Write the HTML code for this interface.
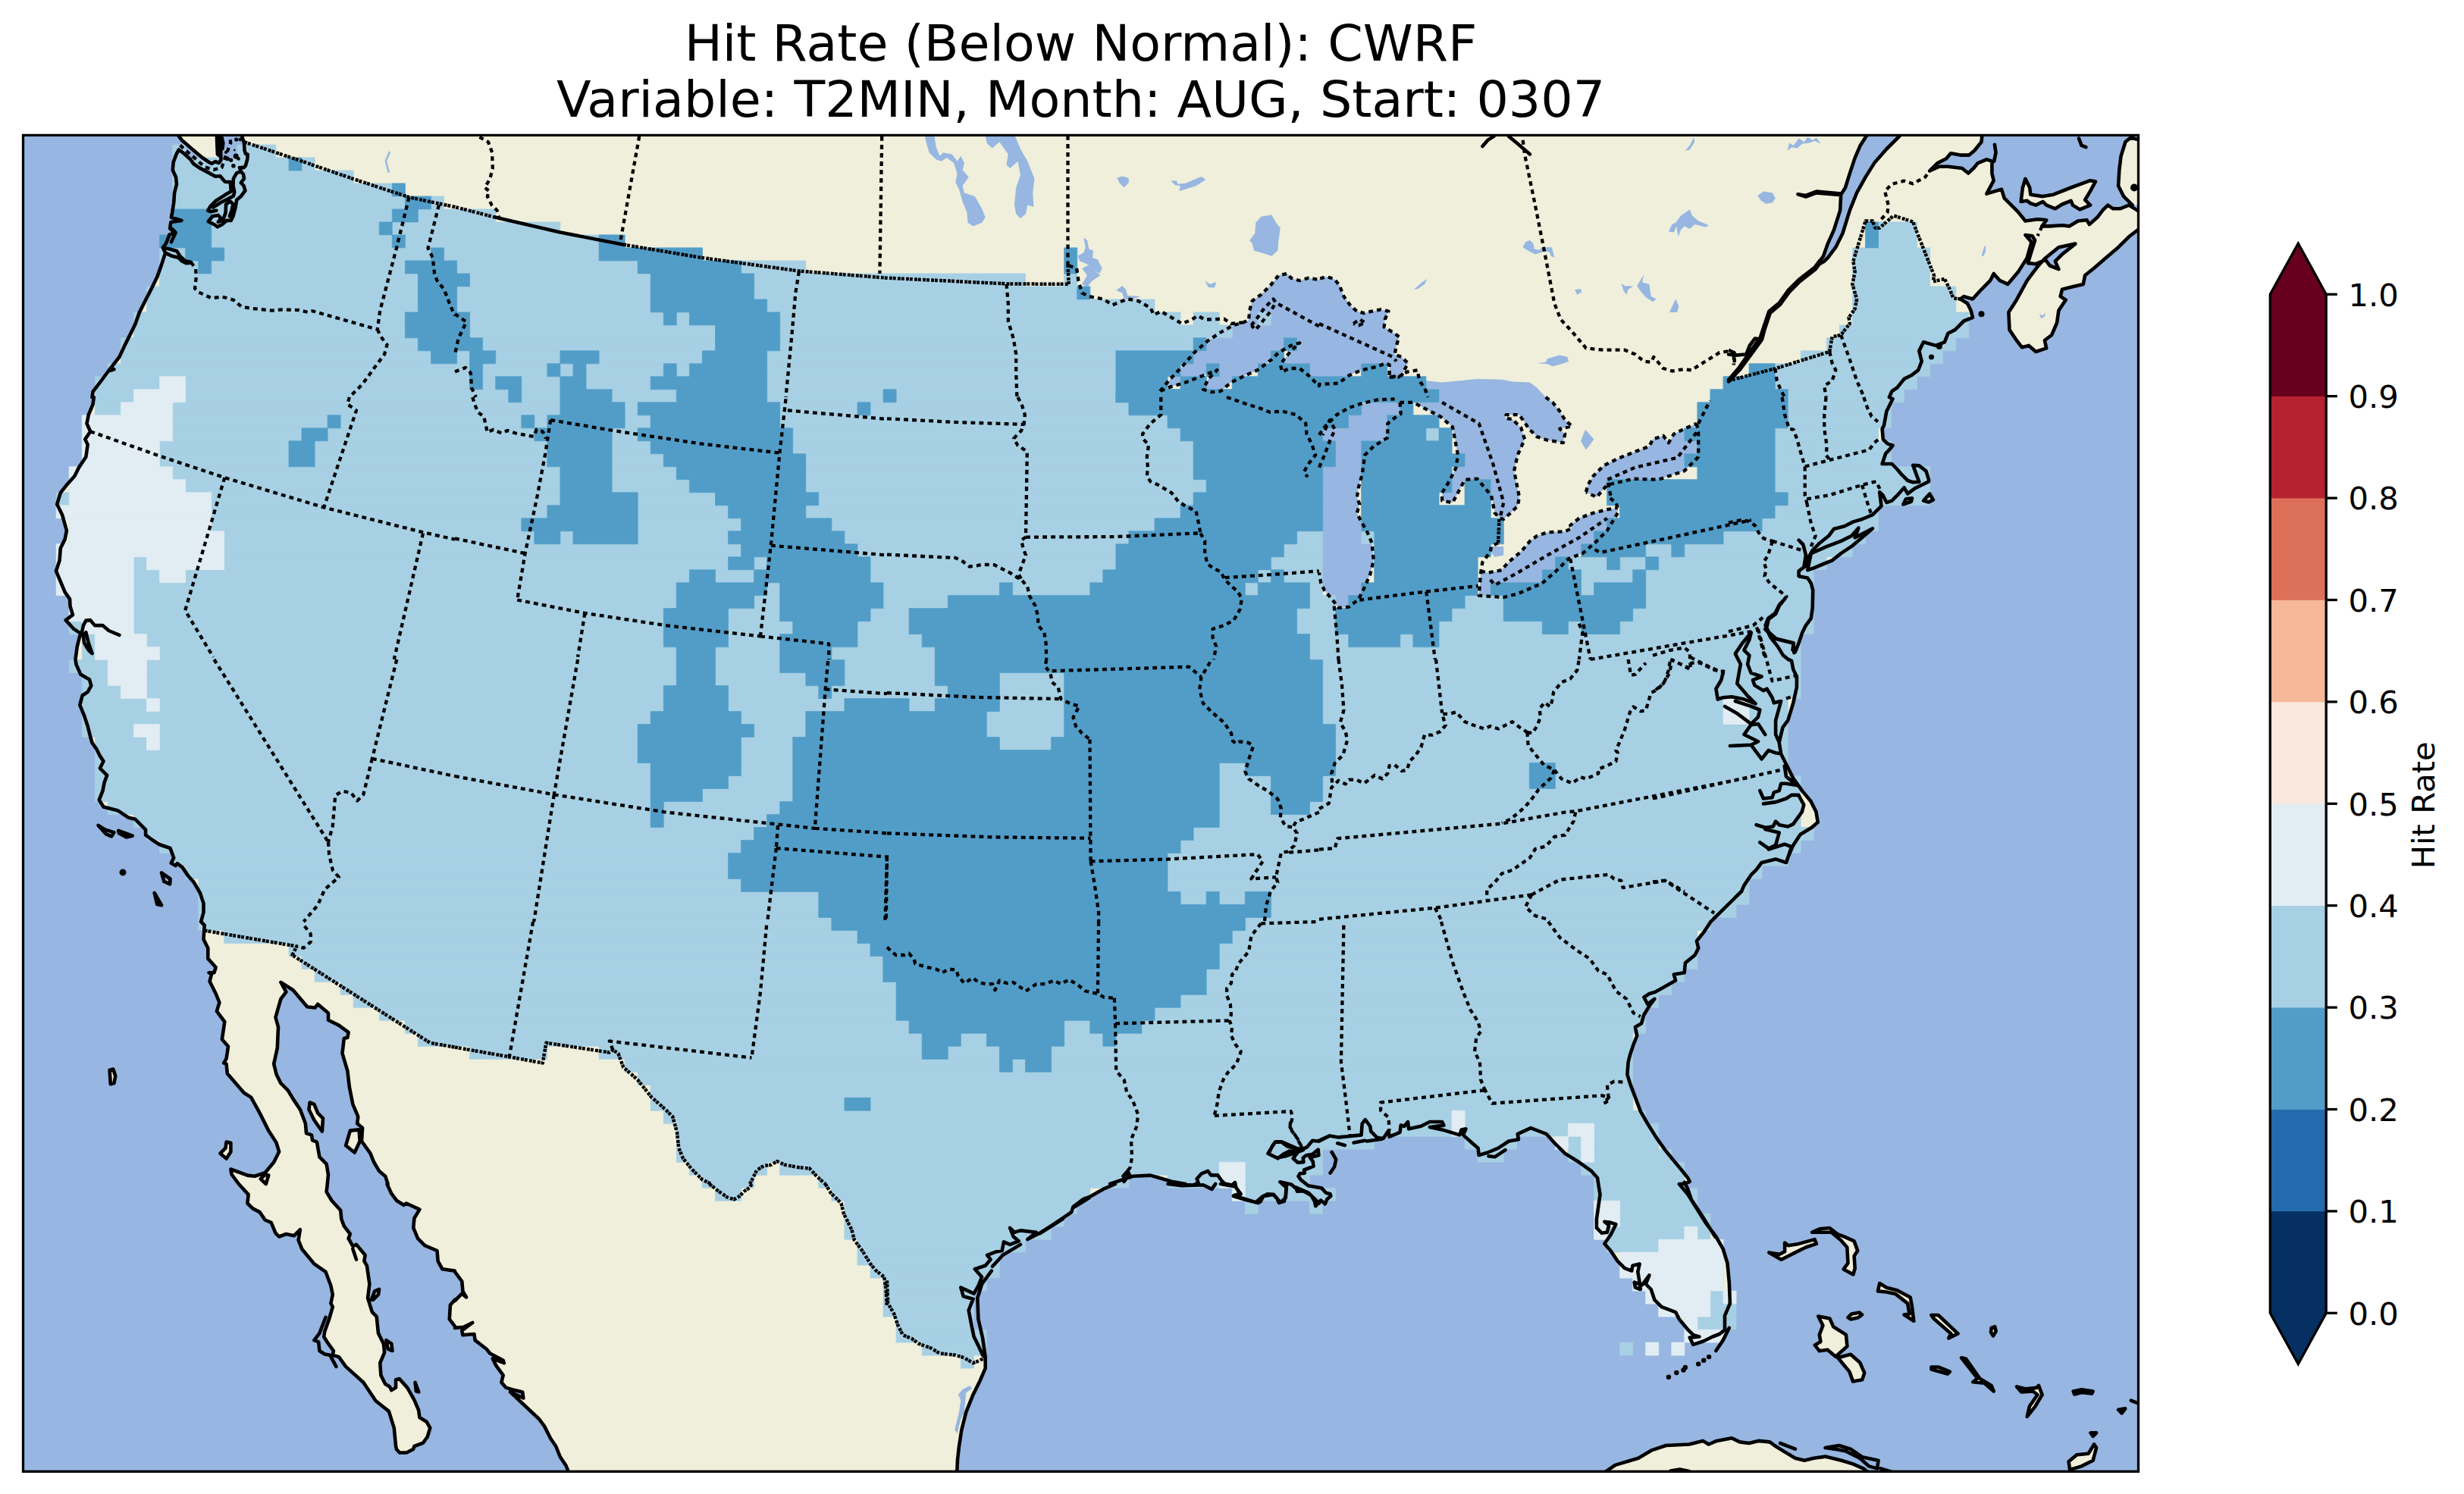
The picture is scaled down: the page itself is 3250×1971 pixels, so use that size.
<!DOCTYPE html>
<html lang="en"><head><meta charset="utf-8"><title>Hit Rate (Below Normal): CWRF</title>
<style>html,body{margin:0;padding:0;background:#fff}svg{display:block}text{font-family:"DejaVu Sans","Liberation Sans",sans-serif;fill:#000}.c{fill:none;stroke:#000;stroke-width:4.6;stroke-linejoin:round;stroke-linecap:round}.b{fill:none;stroke:#000;stroke-width:4.3;stroke-dasharray:5.9 5.15;stroke-linejoin:round}.n{fill:none;stroke:#000;stroke-width:4.5;stroke-dasharray:3.9 1 3.9 2.25;stroke-linejoin:round}.land{fill:#efefdb}.sea{fill:#97b6e1}.lk{fill:#97b6e1}</style></head><body>
<svg xmlns="http://www.w3.org/2000/svg" width="3250" height="1971" viewBox="0 0 3250 1971">
<rect width="3250" height="1971" fill="#fff"/>
<defs><clipPath id="fr"><rect x="30.5" y="178.4" width="2790" height="1762.9"/></clipPath></defs>
<g clip-path="url(#fr)">
<rect x="25.5" y="173.4" width="2800" height="1772.9" class="land"/>
<path class="sea" d="M2614.6,175.7 2613.5,187.3 2604.2,198.8 2597.3,204.6 2585.7,204.6 2573,202.3 2567.2,209.3 2555.6,215.1 2545.2,225.5 2557.9,219.7 2569.5,219.7 2588,222 2596.1,228.5 2603.1,222 2608.9,215.1 2620.4,210.4 2627.4,212.7 2627.4,228.9 2629.7,238.2 2620.4,255.6 2632,252.1 2640.1,249.8 2643.6,261.4 2652.9,270.6 2662.1,279.9 2671.4,291.5 2687.6,289.2 2699.2,290.3 2693.4,298.4 2703.8,298.4 2720,297.3 2729.3,298.4 2740.9,291.5 2752.4,290.3 2755.9,296.1 2766.3,286.8 2773.3,277.6 2780.2,270.6 2787.2,275.3 2796.4,275.3 2808,270.6 2823.1,279.9 2823.1,270.6 2812.7,270.6 2801.1,259.1 2794.1,245.2 2795.3,224.3 2797.6,205.8 2803.4,187.3 2810.3,181.5 2823.1,184.9 2823.1,175.7Z"/>
<path class="sea" d="M2464.1,175.7 2453.7,191.9 2446.7,208.1 2439.8,228.9 2434,247.5 2428.2,256.7 2427.1,277.6 2419,303.1 2410.8,321.6 2405.1,337.8 2395.8,350.5 2406.2,344.7 2410.8,340.1 2421.3,326.2 2430.5,307.7 2439.8,277.6 2449.1,254.4 2460.6,233.6 2472.2,215.1 2488.4,196.5 2509.3,175.7Z"/>
<path class="sea" d="M20.5,168.4 318.7,168.4 318.7,178.4 322,188.7 322.5,198.1 323.9,202.8 326.7,203.7 326.2,210.3 323.9,218.7 321.5,221.1 315.9,221.1 317.8,226.2 304.2,245 303.7,240.1 296.7,239.8 293.9,236.5 290.6,232.3 284,232.8 275.6,228.1 262.5,221.1 255,215.9 251.2,210.3 241.9,201.9 235.8,197.6 235.8,197.6 232.5,203.7 228.7,214 227.8,224.4 232,233.7 233,243.1 230.1,254.3 229.2,267.5 227.3,279.7 225.9,286.7 239.5,290.9 225.5,293 224.1,301.2 230.1,306.8 223.1,310 223.6,309.5 218.7,321.6 214.8,326.7 218.1,333.6 213,349.4 207.2,365.6 201.4,377.6 192.1,395.7 184,411.9 178.2,428.1 173.6,437.4 165.5,453.6 157.4,471 149.3,481.4 143,489.5 131.9,504.5 122.6,516.6 121.5,524 123.8,524 122.6,533.3 116.8,547.2 114.5,558.7 119.2,569.2 112.2,579.6 115.7,586.5 113.4,602.7 104.1,616.6 98.3,628.2 87.9,639.8 79.8,650.2 75.2,665.3 82.1,679.2 87.9,700 85.6,711.6 79.8,723.2 78.6,739.4 74,753.3 79.8,767.2 85.6,781.1 92.1,790.3 92.5,799.6 96,811.2 86.7,818.1 97.2,829.7 107.6,836.6 105.3,839 101.8,852.9 99.5,870 99.5,870 100.6,876.9 106.4,889.7 118,896.6 120.3,904.7 115.7,912.8 108.7,917.5 105.3,930.2 111.1,944.1 115.7,958 119.2,971.9 121.5,980 127.3,988.1 131.9,997.4 136.5,1004.3 131.9,1013.6 141.2,1022.8 137.7,1032.1 135.4,1043.7 130.7,1055.3 136.5,1064.5 155.1,1069.2 169,1078.4 178.2,1080.7 192.1,1094.6 192.1,1101.6 201.4,1108.5 210.6,1114.3 224.5,1119 229.2,1131.7 225.7,1138.6 231.5,1142.1 233.8,1139.1 240.7,1144.4 247.7,1154.9 255.8,1164.1 263.9,1178 268.5,1191.9 268.5,1203.5 265.1,1216 265.1,1216 269.7,1220.6 268.5,1239.2 274.3,1250.7 274.3,1264.6 284.7,1276.2 282.4,1283.2 275.5,1283.2 279,1285.5 276.6,1294.7 284.7,1311 289.4,1322.5 285.9,1334.1 296.3,1348 292.9,1371.2 301,1380.4 298.6,1396.6 295.2,1402.4 298.6,1403.6 299.8,1416.3 321.8,1441.8 331.1,1447.6 342.6,1468.4 354.2,1491.6 364.6,1507.8 368.1,1519.4 361.2,1533.3 349.6,1547.2 335.7,1551.8 326.4,1550.6 304.4,1542.5 305.6,1549.5 314.9,1562 314.9,1562 327.6,1575.9 326.4,1587.5 333.4,1594.4 342.6,1599.1 349.6,1609.5 357.7,1612.9 363.5,1626.8 368.1,1631.5 377.4,1628 387.8,1630.3 395.9,1622.2 393.6,1636.1 398.2,1647.7 414.4,1667.4 429.5,1677.8 436.4,1696.3 438.8,1707.9 436.4,1719.5 438.8,1724.1 434.1,1740.3 428.3,1756.5 427.2,1763.5 433,1772.7 439.9,1782 438.8,1787.8 446.9,1790.1 456.1,1802.9 479.3,1823.7 495.5,1848 512.9,1861.9 519.8,1883.9 522.1,1908 523,1912 527,1916.5 536,1916.5 545,1912 546.4,1908 558,1903.6 563.8,1895.5 567.3,1883.9 562.7,1875.8 553.4,1870 552.2,1860.7 546.4,1846.9 537.2,1830.6 526.8,1819.1 522.1,1820.2 522.1,1830.6 516.3,1834.1 514,1829.5 508.2,1826 502.4,1814.4 501.3,1798.2 507.1,1784.3 505.9,1772.7 499,1758.9 496.7,1736.8 490.9,1731.1 485.1,1712.5 487.4,1694 483.9,1669.7 480.4,1663.9 481.6,1655.8 470,1641.9 465.4,1644.2 459.6,1633.8 461.9,1628 453.8,1617.6 450.3,1608.3 449.2,1596.7 437.6,1584 430.6,1572.4 431.8,1562 431.8,1562 433,1549.5 430.6,1535.6 421.4,1526.3 417.9,1506.6 412.1,1504.3 411,1497.4 404,1495.1 402.9,1482.3 395.9,1463.8 386.6,1449.9 379.7,1438.3 370.4,1429.1 364.6,1417.5 361.2,1403.6 365.8,1382.7 367,1355 363.5,1342.2 370.4,1317.9 377.4,1308.6 370.4,1295.9 370.4,1295.9 386.6,1306.3 405.2,1328.3 415.6,1329.5 419.1,1324.8 433,1336.4 433,1345.7 446.9,1352.6 459.6,1361.9 458.4,1368.8 453.8,1370 451.5,1389.7 458.4,1412.9 460.8,1433.7 465.4,1456.9 472.3,1473.1 471.2,1482.3 478.1,1488.1 477,1505.5 488.5,1521.7 493.2,1533.3 500.1,1544.9 508.2,1551.8 511.7,1562 510.5,1562 516.3,1574.7 523.3,1584 532.5,1589.8 536,1587.5 553.4,1595.6 546.4,1607.2 545.3,1619.9 551.1,1633.8 560.3,1643.1 576.5,1650 577.7,1663.9 583.5,1674.3 599.9,1676.6 600,1677.8 609.3,1690.5 610.4,1703.3 615.1,1711.4 609.3,1706.7 600,1716 599.9,1714.8 593.9,1721.8 592.8,1740.3 599.9,1749.6 600,1751.9 611.6,1750.7 623.2,1745 609.3,1755.4 610.4,1761.2 625.5,1760 626.6,1768.1 641.7,1779.7 646.3,1785.5 663.7,1794.7 664.8,1798.2 649.8,1792.4 654.4,1801.7 663.7,1814.4 661.4,1823.7 667.2,1830.6 678.7,1834.1 689.2,1836.4 690.3,1844.5 673,1836.4 711.2,1872.3 718.1,1881.6 726.2,1897.8 733.2,1908 738.7,1921.7 746.5,1933.5 753.6,1951 20.5,1951Z"/>
<path class="sea" d="M2823.1,300.7 2808,312.3 2794.1,326.2 2777.9,340.1 2761.7,354 2750.1,363.3 2747.8,374.9 2733.9,378.3 2720,381.8 2717.7,391.1 2724.7,395.7 2715.4,409.6 2713.1,425.8 2706.1,442 2696.9,449 2699.2,459.4 2685.3,464 2676,455.9 2666.8,458.2 2659.8,449 2650.5,435.1 2649.4,411.9 2659.8,395.7 2673.7,370.2 2687.6,351.7 2696.9,341.3 2715.4,326.2 2737.4,321.6 2720,335.5 2710.8,344.7 2715.4,355.2 2703.8,350.5 2698,342.9 2685.3,348.2 2674.9,347.1 2678.3,335.5 2684.1,317 2680.6,311.2 2671.4,310 2679.5,319.3 2673.7,340.1 2662.1,358.6 2648.2,374.9 2637.8,370.2 2629.7,361 2625.1,370.2 2613.5,381.8 2601.9,394.5 2590.3,391.1 2585.7,394.5 2595,400.3 2599.6,409.6 2601.9,418.9 2590.3,423.5 2578.7,435.1 2569.5,439.7 2564.9,451.3 2553.3,455.9 2537.1,451.3 2531.3,462.9 2534.7,476.7 2530.1,488.3 2520.9,495.3 2511.6,499.9 2502.3,511.5 2495.4,516.1 2491.9,524 2496.5,526.3 2488.4,542.5 2485,561.1 2482.6,565.7 2483.8,579.6 2489.6,585.4 2496.5,587.7 2491.9,593.5 2487.3,598.1 2482.6,612 2495.4,612 2502.3,619 2508.1,625.9 2511.6,629.4 2516.2,634 2523.2,636.3 2531.3,635.6 2523.2,613.9 2531.3,614.3 2540.5,621.3 2544,632.8 2544,635.2 2525.5,644.4 2516.2,651.4 2511.6,643.3 2502.3,653.7 2495.4,660.6 2488.4,663 2483.8,653.7 2479.2,649.1 2481.5,667.6 2469.9,679.2 2456,685 2444.4,688.4 2432.8,694.2 2419,697.7 2412,707 2400.4,716.2 2391.2,725.5 2384.2,737.1 2381.9,746.3 2372.6,753.3 2372.6,760.2 2384.2,762.5 2388.8,769.5 2391.2,778.7 2390.7,801.9 2388.8,815.8 2381.9,825.1 2377.3,834.3 2372.6,848.2 2368,859.8 2364.5,857.5 2365.7,848.2 2356.4,845.9 2342.5,842.4 2333.3,834.3 2328.6,825.1 2332.1,815.8 2341.4,808.9 2347.2,797.3 2354.1,790.3 2347.2,798.4 2342.1,810 2332.8,817 2329.8,829.7 2335.6,841.3 2344.8,852.9 2351.8,864.4 2358.7,870 2363,871.7 2365.3,883.3 2369.9,892.5 2369.9,906.4 2365.3,927.3 2358.3,950.4 2351.4,959.7 2346.7,979.4 2349.1,994.4 2356,1008.3 2365.3,1026.9 2376.9,1043.1 2388.4,1057 2395.4,1070.9 2397.7,1084.7 2389.6,1091.7 2374.5,1101 2365.3,1114.9 2358.3,1131.1 2356,1138 2342.1,1133.4 2323.6,1138 2316.6,1147.3 2309.7,1154.2 2300.4,1168.1 2297,1176 2256.4,1216 2247.2,1229.9 2237.9,1241.5 2240.2,1250.7 2235.6,1260 2222.9,1270.4 2221.7,1283.2 2207.8,1285.5 2210.1,1293.6 2193.9,1302.8 2183.5,1308.6 2175.4,1311 2168.4,1315.6 2173.1,1324.8 2182.3,1317.9 2175.4,1327.2 2168.4,1338.7 2165,1350.3 2156.9,1355 2159.2,1366.5 2154.5,1378.1 2149.9,1392 2147.6,1401.3 2146.4,1417.5 2149.9,1429.1 2156.9,1447.6 2163.8,1466.1 2173.1,1482.3 2184.7,1500.9 2196.2,1517.1 2205.5,1528.6 2217.1,1542.5 2226.3,1554.1 2228.7,1558.8 2221.7,1562 2214.8,1562 2226.3,1575.9 2237.9,1594.4 2249.5,1612.9 2263.4,1631.5 2272.7,1647.7 2278.4,1666.2 2280.8,1691.7 2281.9,1719.5 2275,1735.7 2275,1754.2 2275,1754.2 2268,1760 2258.8,1763.5 2247.2,1769.3 2233.3,1773.9 2228.7,1764.6 2241.4,1763.5 2233.3,1761.2 2226.3,1754.2 2214.8,1740.3 2210.1,1731.1 2191.6,1724.1 2182.3,1714.8 2177.7,1701 2170.8,1694 2175.4,1682.4 2166.1,1695.2 2155.7,1691.7 2156.9,1698.6 2163.8,1701 2162.6,1691.7 2160.3,1677.8 2162.6,1667.4 2153.4,1669.7 2152.2,1676.6 2143,1673.2 2133.7,1663.9 2124.4,1650 2116.3,1640.7 2124.4,1629.2 2131.4,1615.3 2124.4,1612.9 2116.3,1611.8 2122.1,1616.4 2119.8,1625.7 2112.9,1626.8 2105.9,1619.9 2105.9,1608.3 2108.2,1592.1 2110.5,1575.9 2108.2,1562 2108.2,1562 2107.1,1554.1 2099,1544.9 2082.8,1533.3 2064.2,1521.7 2050.3,1507.8 2039.9,1496.2 2019.1,1488.1 2001.7,1496.2 2002.9,1503.2 1990.1,1505.5 1976.2,1514.7 1962.3,1520.5 1950.7,1524 1949.6,1514.7 1941.5,1507.8 1929.9,1497.4 1933.4,1489.3 1927.6,1490.4 1925.3,1497.4 1902.1,1490.4 1885.9,1487 1904.4,1484.6 1902.1,1480 1885.9,1480 1874.3,1485.8 1858.1,1489.3 1857,1480 1852.3,1485.8 1847.7,1484.6 1846.5,1493.9 1832.6,1499.7 1831.5,1491.6 1824.5,1502 1816.4,1500.9 1808.3,1492.7 1807.2,1485.8 1800.7,1477.2 1796.7,1482.3 1795.6,1497.4 1765.5,1500.4 1753.9,1498.5 1740,1505.5 1753.2,1498.6 1738,1505.5 1731.1,1504.8 1724.2,1513.1 1715.9,1517.3 1698,1512.4 1689.7,1506.2 1682.8,1506.2 1678.7,1511 1673.2,1522.1 1685.6,1528.3 1692.5,1522.8 1700.7,1518.6 1711.8,1520 1705.6,1528.3 1711.8,1533.8 1719.4,1533.1 1718.7,1527.6 1722.8,1524.2 1731.1,1522.8 1738.7,1516.6 1739.4,1524.2 1727.7,1526.9 1731.8,1532.4 1732.5,1538.6 1720.1,1543.5 1720.8,1547.6 1714.5,1548.3 1712.5,1551.8 1715.9,1556.6 1725.6,1564.2 1743.5,1567.6 1749,1573.8 1754.6,1575.2 1755.3,1578 1750.4,1582.1 1747.7,1588.3 1742.1,1583.5 1735.2,1591.1 1733.9,1584.9 1729.7,1577.3 1718.7,1571.1 1711.1,1571.8 1709.7,1568.3 1703.5,1562.8 1688.3,1559.3 1696.6,1564.2 1695.9,1576.6 1693.8,1584.9 1686.9,1586.9 1684.2,1580.7 1680,1575.9 1671.8,1575.2 1666.3,1578 1662.8,1584.9 1659.4,1586.9 1642.8,1582.8 1626.9,1578 1636.6,1575.2 1630.4,1566.9 1629,1560 1624.9,1563.5 1615.2,1561.4 1611.1,1557.3 1606.2,1550.4 1597.3,1550.4 1593.1,1544.9 1584.8,1548.3 1578.6,1555.2 1580.7,1560.7 1573.8,1563.5 1560,1562.8 1563.7,1562 1545.2,1558.8 1533.6,1555.3 1517.4,1550.6 1494.2,1551.8 1480.3,1556.4 1464.1,1562 1471.1,1562 1454.9,1568.9 1436.3,1579.4 1429.4,1581.7 1415.5,1592.1 1413.2,1599.1 1401.6,1607.2 1387.7,1616.4 1371.5,1626.8 1355.3,1635 1366.9,1625.7 1346,1623.4 1337.9,1625.7 1332.1,1619.9 1336.7,1631.5 1343.7,1637.3 1332.1,1641.9 1324,1638.4 1321.7,1650 1314.7,1651.2 1302,1655.8 1306.6,1661.6 1299.7,1669.7 1285.8,1674.3 1295.1,1684.7 1290.4,1696.3 1284.6,1706.7 1267.3,1698.6 1270.7,1710.2 1283.5,1713.7 1277.7,1728.7 1281.2,1747.3 1284.6,1763.5 1290.4,1775.1 1296.2,1787.8 1299.7,1791.3 1299.7,1805.2 1292.7,1821.4 1283.5,1839.9 1274.2,1863.1 1268.4,1886.2 1265,1908 1263,1925.7 1261.8,1951 2830.5,1951 2830.5,300.7Z"/>
<path class="land" d="M234.8,178.4 240,185 255,198.1 266.2,207.5 275.6,214 279.4,215.9 284,213.1 288.7,215 291.5,211.2 291.1,198.1 289.7,178.4Z"/>
<path class="land" d="M2665.6,266 2667.9,247.5 2671.4,235.9 2677.2,247.5 2678.3,256.7 2694.5,259.1 2708.4,256.7 2731.6,247.5 2757.1,238.2 2764,239.4 2757.1,252.1 2750.1,263.7 2757.1,270.6 2743.2,276.4 2733.9,270.6 2731.6,264.8 2720,269.5 2710.8,275.3 2699.2,270.6 2694.5,266 2685.3,270.6 2678.3,268.3 2673.7,264.8Z"/>
<path class="land" d="M2384.2,752.1 2388.8,730.1 2409.7,720.9 2428.2,713.9 2442.1,707 2451.4,696.5 2446.7,709.3 2469.9,697.2 2456,709.3 2442.1,720.9 2428.2,730.1 2416.6,739.4 2405.1,744 2391.2,749.8Z"/>
<path class="land" d="M408.6,1454.5 414.4,1456.9 419.1,1468.4 426,1475.4 424.9,1492.7 414.4,1477.7 407.5,1463.8Z"/>
<path class="land" d="M461.9,1491.6 473.5,1490.4 474.7,1505.5 467.7,1520.5 456.1,1511.3Z"/>
<path class="land" d="M298.6,1506.6 304.4,1507.8 304.4,1519.4 298.6,1528.6 290.5,1521.7 297.5,1514.7Z"/>
<path class="land" d="M144.6,1411.7 149.3,1410.5 152.3,1419.8 150.4,1429.1 145.8,1430.2Z"/>
<path class="land" d="M343.8,1555.3 349.6,1549.5 354.2,1550.6 350.8,1562Z"/>
<path class="land" d="M2333.3,1652.4 2349.5,1661.7 2368,1652.4 2381.9,1645.5 2395.8,1640.9 2393.5,1635.1 2372.6,1640.9 2358.7,1643.2 2354.1,1639.7 2354.1,1651.3 2347.2,1654.7Z"/>
<path class="land" d="M2390,1625.8 2400.4,1621.2 2413.2,1620 2423.6,1628.1 2432.8,1631.6 2445.6,1637.4 2450.2,1650.1 2445.6,1657.1 2446.7,1673.3 2444.4,1681.4 2431.7,1674.4 2437.5,1666.3 2436.3,1645.5 2428.2,1636.2 2415.5,1625.8 2400.4,1625.8Z"/>
<path class="land" d="M2476.9,1703.4 2479.2,1693 2488.4,1698.7 2502.3,1702.2 2519.7,1711.5 2522,1724.2 2524.3,1742.8 2511.6,1734.6 2518.5,1733.5 2516.2,1719.6 2500,1706.9 2488.4,1704.5Z"/>
<path class="land" d="M2437.5,1738.1 2442.1,1733.5 2452.5,1731.6 2456,1734.6 2450.2,1738.6 2441,1740.4Z"/>
<path class="land" d="M489.7,1714.8 494.3,1703.3 500.1,1701 499,1707.9 492,1714.8Z"/>
<path class="land" d="M509.4,1768.1 516.3,1772.7 517.5,1782 511.7,1779.7Z"/>
<path class="land" d="M547.6,1823.7 552.2,1836.4 548.8,1835.3Z"/>
<path class="land" d="M2115.2,1943.5 2130.4,1932.9 2160.9,1923.7 2179.1,1913.1 2197.4,1907 2227.9,1905.5 2246.1,1900.9 2253.7,1905.5 2264.4,1900.9 2284.2,1897.3 2294.8,1902.4 2307,1904 2319.2,1900.9 2334.4,1902.4 2340.5,1907 2352.7,1914.6 2367.9,1923.7 2380.1,1926.8 2392.2,1923.7 2407.5,1921.6 2428.8,1926.8 2444,1931.4 2457.7,1937.4 2465.3,1943.5 2465.3,1960 2115.2,1960Z"/>
<path class="land" d="M2398.3,1736.5 2413.5,1739.6 2418.1,1750.2 2434.9,1760.9 2436.4,1776.1 2421.2,1789.8 2410.5,1780.7 2399.8,1782.2 2393.8,1774.6 2401.4,1770 2399.8,1760.9 2404.4,1748.7Z"/>
<path class="land" d="M2424.2,1791.3 2440.9,1786.8 2453.1,1797.4 2459.2,1811.1 2456.2,1820.2 2444,1822.4 2439.4,1809.6 2431.8,1800.5Z"/>
<path class="land" d="M2547.5,1735 2556.6,1735 2582.5,1759.4 2570.3,1765.4 2573.4,1759.4 2550.5,1739.6Z"/>
<path class="land" d="M2626.6,1751.8 2631.2,1750.2 2632.7,1756.3 2629.1,1762.4 2626,1757.8Z"/>
<path class="land" d="M2547.5,1803.5 2556.6,1803.5 2571.8,1809.6 2568.8,1812.6 2547.5,1806.5Z"/>
<path class="land" d="M2587.1,1791.3 2593.2,1792.8 2611.4,1818.7 2626.6,1827.9 2629.7,1835.5 2617.5,1824.8 2602.3,1823.3 2608.4,1818.7Z"/>
<path class="land" d="M2660.1,1829.4 2672.3,1832.4 2686,1830.9 2689,1827.9 2693.6,1840 2684.5,1855.3 2673.8,1868.9 2676.9,1855.3 2687.5,1840 2681.4,1835.5 2666.2,1836.4Z"/>
<path class="land" d="M2734.7,1835.5 2745.4,1833.3 2760.6,1835.5 2759.1,1838.5 2745.4,1837 2736.2,1839.4Z"/>
<path class="land" d="M2794.1,1859.8 2803.2,1858.3 2798.6,1864.4Z"/>
<path class="land" d="M2757.5,1890.3 2765.1,1890.3 2760.6,1894.8Z"/>
<path class="land" d="M2728.6,1928.3 2739.3,1919.2 2754.5,1917.7 2762.1,1905.5 2765.1,1910 2760.6,1926.8 2745.4,1934.4 2730.1,1939Z"/>
<path class="lk" d="M1219.8,179.9 1232.5,179.9 1234.8,194.2 1239.5,205.8 1244.1,201.2 1255.7,203.5 1262.6,212.7 1267.3,205.8 1271.9,215.1 1269.6,224.3 1277.7,233.6 1269.6,245.2 1271.9,254.4 1285.8,259.1 1295.1,275.3 1299.7,286.8 1295.1,293.8 1283.5,298.4 1276.5,293.8 1275.4,279.9 1269.6,266 1265,249.8 1260.3,240.5 1262.6,228.9 1258,215.1 1248.7,208.1 1241.8,212.7 1234.8,210.4 1225.6,201.2 1222.1,189.6Z"/>
<path class="lk" d="M1299.7,179.9 1339.1,179.9 1346,196.5 1355.3,212.7 1364.5,235.9 1362.2,254.4 1363.4,273 1355.3,270.6 1353,282.2 1346,288 1340.2,282.2 1337.9,270.6 1340.2,247.5 1346,231.3 1342.5,212.7 1332.1,222 1327.5,217.4 1329.8,203.5 1318.2,187.3 1309,195.4 1302,189.6Z"/>
<path class="lk" d="M1473.4,234.7 1480.3,232.4 1488.4,234.7 1489.1,240.5 1482.6,247.5 1476.9,241.7Z"/>
<path class="lk" d="M1544,238.2 1552.1,238.7 1553.3,242.8 1563.7,241.7 1584.5,233.1 1590.3,237.1 1577.6,245.2 1555.6,252.1 1556.8,245.2 1549.8,244Z"/>
<path class="lk" d="M1663.3,285.7 1677.2,283.4 1683,293.8 1688.8,300.7 1686.4,317 1685.3,330.8 1677.2,337.8 1663.3,333.2 1654,330.8 1651.7,321.6 1648.2,317 1655.2,307.7 1656.3,293.8Z"/>
<path class="lk" d="M1429.4,313.5 1434,317 1436.3,328.5 1442.1,330.8 1441,340.1 1447.9,342.4 1453.7,354 1450.2,361 1443.3,356.3 1451.4,363.3 1441,370.2 1434,378.3 1427.1,374.9 1434,363.3 1427.1,354 1436.3,349.4 1424.7,344.7 1421.3,337.8 1429.4,333.2 1431.7,326.2Z"/>
<path class="lk" d="M1472.2,383 1480.3,377.2 1485,381.8 1487.3,389.9 1504.6,391.1 1494.2,394.5 1482.6,394.5 1480.3,386.4Z"/>
<path class="lk" d="M1589.2,370.2 1596.1,374.9 1604.2,372.1 1601.9,379.5 1593.8,379Z"/>
<path class="lk" d="M2008.6,326.2 2012.1,319.3 2017.9,317 2022.5,321.6 2023.7,328.5 2029.5,329.7 2035.3,326.2 2046.9,326.2 2050.3,340.1 2045.7,337.8 2043.4,332 2036.4,332 2024.9,335.5 2015.6,330.8Z"/>
<path class="lk" d="M2200.9,305.4 2205.5,296.1 2210.1,293.8 2217.1,284.5 2228.7,276.4 2232.1,284.5 2240.2,291.5 2254.1,297.3 2249.5,299.6 2235.6,296.1 2228.7,301.9 2221.7,298.4 2217.1,303.1 2213.6,312.3 2211.3,298.4 2207.8,306.5Z"/>
<path class="lk" d="M2027.2,479.1 2038.7,477.9 2041.1,473.3 2057.3,468.6 2067.7,471 2068.9,476.7 2059.6,480.2 2048,483.2 2041.1,480.2Z"/>
<path class="lk" d="M1865.1,381.8 1875.5,372.5 1882.4,367.9 1879,374.9 1869.7,381.3Z"/>
<path class="lk" d="M2077,382.3 2085.1,381.3 2086.2,385.3 2080.4,388.7Z"/>
<path class="lk" d="M2138.3,373.7 2143,377.2 2154.5,377.6 2147.6,381.8 2145.3,388.7 2141.8,384.1Z"/>
<path class="lk" d="M2159.2,377.2 2168.4,362.1 2166.1,372.5 2175.4,374.9 2177.7,391.1 2184.7,394.5 2180,398 2170.8,392.2 2163.8,384.1Z"/>
<path class="lk" d="M2202,411.9 2210.1,394.5 2214.3,403.8 2212.4,411.9Z"/>
<path class="lk" d="M2222.9,198.4 2228.7,191.9 2234.4,180.8 2235.1,187.3 2228.7,197.7Z"/>
<path class="lk" d="M2318.2,257.9 2326.3,252.6 2337.9,254.4 2341.8,261.4 2337.9,267.2 2329.8,269 2322.8,264.8Z"/>
<path class="lk" d="M2357.6,198.8 2359.9,188.4 2365.7,191.9 2372.6,182.6 2379.6,187.3 2384.2,180.8 2391.2,184.9 2395.8,181.5 2401.6,189.6 2393.5,186.1 2386.5,188.4 2377.3,189.6 2370.3,195.4 2363.4,194.2Z"/>
<path class="lk" d="M2613.5,337.8 2617,326.2 2619.3,322.7 2618.6,333.2 2615.8,337.8Z"/>
<path class="lk" d="M2689.9,414.2 2694.5,416.5 2698,411.9 2696.9,417.7 2692.2,420Z"/>
<path class="lk" d="M1796.7,532.1 1816.4,529.8 1846.5,529.8 1846.5,530.9 1847.7,546 1841.9,549.5 1830.3,558.7 1830.3,577.3 1811.8,588.8 1800.2,600.4 1796.7,625.9 1792.1,642.1 1789.8,656 1793.3,665.3 1789.8,676.8 1795.6,688.4 1802.5,700 1809.5,716.2 1811.8,739.4 1807.2,757.9 1800.2,774.1 1796.7,781.1 1792.1,790.3 1779.4,800.7 1765.5,801.9 1758.5,792.6 1746.9,778.7 1742.3,769.5 1740,755.6 1735.4,732.4 1737.7,700 1740,653.7 1737.7,616.6 1726.1,593.5 1721.5,570.3 1735.4,551.8 1753.9,547.2 1779.4,549.5Z"/>
<path class="lk" d="M1869.7,524 1872,502.2 1881.3,502.2 1902.1,504.5 1925.3,502.2 1948.4,499.9 1971.6,500.4 1983.2,501.1 1994.7,503.4 2017.9,504.5 2027.2,511.5 2038.7,524 2048,530.9 2057.3,542.5 2064.2,554.1 2073.5,562.2 2057.3,565.7 2064.2,572.6 2061.9,584.2 2041.1,580.7 2027.2,576.1 2016.7,565.7 2006.3,550.6 2004,547.2 1986.6,547.2 1985.5,551.8 1994.7,552.9 2006.3,564.5 2011,579.6 2001.7,600.4 1997.1,621.3 2004,656 2001.7,667.6 1992.4,676.8 1983.2,685 1978.5,683.8 1971.6,676.8 1967,653.7 1948.4,631.7 1932.2,632.8 1916,663 1902.1,660.6 1902.1,650.2 1911.4,635.2 1920.6,616.6 1923,600.4 1916,563.4 1899.8,549.5 1863.9,530.9 1846.5,530.9Z"/>
<path class="lk" d="M1967,720.9 1983.2,720.9 1983.2,732.4 1971.6,734.7 1965.8,727.8Z"/>
<path class="lk" d="M1953.1,753.3 1962.3,755.6 1980.9,752.1 1985.5,746.3 1992.4,739.4 2006.3,727.8 2017.9,713.9 2027.2,707 2041.1,702.3 2064.2,701.2 2073.5,696.5 2071.2,693.1 2082.8,683.8 2101.3,676.8 2119.8,672.2 2133.7,669.9 2133.7,676.8 2119.8,700 2103.6,716.2 2087.4,730.1 2068.9,737.1 2052.6,753.3 2034.1,769.5 2001.7,783.4 1983.2,788 1950.7,785.7 1953.1,755.6Z"/>
<path class="lk" d="M2092,649.1 2094.3,639.8 2101.3,628.2 2115.2,614.3 2133.7,605.1 2156.9,595.8 2175.4,588.8 2180,579.6 2193.9,574.9 2200.9,584.2 2207.8,572.6 2221.7,565.7 2237.9,558.7 2237.9,558.7 2240.2,570.3 2240.2,602.7 2221.7,621.3 2187,632.8 2154.5,631.7 2119.8,639.8 2105.9,656 2092,649.1Z"/>
<path class="lk" d="M2085.1,581.9 2090.9,566.8 2102.4,579.6 2092,593.5Z"/>
<path class="lk" d="M1263.8,1839.9 1269.6,1833 1278.8,1828.3 1282.3,1831.8 1274.2,1837.6 1271.9,1863.1 1267.3,1872.3 1262.6,1890.9 1259.2,1886.2 1265,1863.1 1267.3,1846.9Z"/>
<path class="lk" d="M1530.1,516.1 1540.5,503.4 1559.1,483.7 1575.3,465.2 1593.8,449 1610,438.5 1626.2,429.3 1640.1,425.3 1647.1,422.3 1648.2,409.6 1651.7,396.9 1663.3,388.7 1677.2,374.9 1686.4,363.3 1698,361 1702.7,366.7 1714.2,370.2 1725.8,366.7 1739.9,369.1 1740,367.9 1749.3,365.1 1759.7,367.9 1766.6,376 1772.4,391.1 1781.7,403.8 1789.8,410.7 1799.1,413.1 1809.5,410.7 1821.1,408.4 1831.5,410.7 1826.8,421.2 1825.7,431.6 1837.3,438.5 1845.4,444.3 1841.9,455.9 1839.6,467.5 1848.8,471 1857,479.1 1848.8,495.3 1832.6,497.6 1832.6,497.6 1832.6,481.4 1828,479.1 1816.4,483.7 1795.6,488.3 1779.4,495.3 1765.5,505.7 1753.9,506.4 1740,506.9 1739.9,509.2 1735.1,504.5 1725.8,495.3 1714.2,486 1700.3,486 1691.1,490.6 1688.8,481.4 1693.4,474.4 1702.7,462.9 1714.2,452.4 1702.7,455.9 1686.4,465.2 1677.2,474.4 1658.7,488.3 1642.4,495.3 1623.9,504.5 1610,516.1 1598.4,517.3 1586.9,513.8 1593.8,499.9 1605.4,488.3 1584.5,496.4 1563.7,504.5 1540.5,511.5 1530.1,516.1Z"/>
<path fill="#a7d0e4" stroke="#a7d0e4" stroke-width="0.7" d="M227.6,191H244.6V208H227.6ZM312.8,191H363.9V208H312.8ZM227.6,208H415.1V225H227.6ZM227.6,225H466.2V242H227.6ZM227.6,242H534.4V259H227.6ZM227.6,259H585.5V275.9H227.6ZM227.6,275.9H653.7V292.9H227.6ZM227.6,292.9H738.9V309.9H227.6ZM2460.5,292.9H2528.6V309.9H2460.5ZM210.5,309.9H824.1V326.9H210.5ZM2460.5,309.9H2528.6V326.9H2460.5ZM210.5,326.9H926.4V343.9H210.5ZM1403.7,326.9H1420.7V343.9H1403.7ZM2443.4,326.9H2545.7V343.9H2443.4ZM210.5,343.9H1062.8V360.9H210.5ZM1403.7,343.9H1420.7V360.9H1403.7ZM2443.4,343.9H2545.7V360.9H2443.4ZM210.5,360.9H1352.5V377.9H210.5ZM1403.7,360.9H1420.7V377.9H1403.7ZM2443.4,360.9H2545.7V377.9H2443.4ZM193.5,377.9H1437.8V394.9H193.5ZM2443.4,377.9H2579.8V394.9H2443.4ZM193.5,394.9H1523V411.9H193.5ZM2443.4,394.9H2579.8V411.9H2443.4ZM176.4,411.9H1557.1V428.9H176.4ZM1574.1,411.9H1608.2V428.9H1574.1ZM1659.3,411.9H1676.4V428.9H1659.3ZM2443.4,411.9H2596.8V428.9H2443.4ZM176.4,428.9H1625.3V445.8H176.4ZM2426.4,428.9H2596.8V445.8H2426.4ZM159.4,445.8H1591.2V462.8H159.4ZM1693.4,445.8H1710.5V462.8H1693.4ZM2409.3,445.8H2579.8V462.8H2409.3ZM159.4,462.8H1574.1V479.8H159.4ZM1676.4,462.8H1693.4V479.8H1676.4ZM2375.2,462.8H2562.7V479.8H2375.2ZM142.3,479.8H1557.1V496.8H142.3ZM1591.2,479.8H1608.2V496.8H1591.2ZM1659.3,479.8H1727.5V496.8H1659.3ZM1795.7,479.8H1829.8V496.8H1795.7ZM2307.1,479.8H2545.7V496.8H2307.1ZM125.3,496.8H1540V513.8H125.3ZM1557.1,496.8H1591.2V513.8H1557.1ZM1625.3,496.8H1880.9V513.8H1625.3ZM2273,496.8H2528.6V513.8H2273ZM125.3,513.8H1898V530.8H125.3ZM2255.9,513.8H2511.6V530.8H2255.9ZM125.3,530.8H1795.7V547.8H125.3ZM1846.8,530.8H1863.9V547.8H1846.8ZM2238.9,530.8H2494.6V547.8H2238.9ZM108.3,547.8H1778.7V564.8H108.3ZM1829.8,547.8H1898V564.8H1829.8ZM2238.9,547.8H2494.6V564.8H2238.9ZM108.3,564.8H1744.6V581.8H108.3ZM1829.8,564.8H1915V581.8H1829.8ZM2221.8,564.8H2477.5V581.8H2221.8ZM108.3,581.8H1761.6V598.8H108.3ZM1795.7,581.8H1915V598.8H1795.7ZM2238.9,581.8H2494.6V598.8H2238.9ZM108.3,598.8H1761.6V615.8H108.3ZM1795.7,598.8H1932.1V615.8H1795.7ZM2221.8,598.8H2494.6V615.8H2221.8ZM91.2,615.8H1744.6V632.7H91.2ZM1795.7,615.8H1915V632.7H1795.7ZM2238.9,615.8H2545.7V632.7H2238.9ZM91.2,632.7H1744.6V649.7H91.2ZM1795.7,632.7H1915V649.7H1795.7ZM1932.1,632.7H1966.2V649.7H1932.1ZM2119.6,632.7H2545.7V649.7H2119.6ZM74.2,649.7H1744.6V666.7H74.2ZM1795.7,649.7H1898V666.7H1795.7ZM1932.1,649.7H1966.2V666.7H1932.1ZM2119.6,649.7H2545.7V666.7H2119.6ZM74.2,666.7H1744.6V683.7H74.2ZM1795.7,666.7H1966.2V683.7H1795.7ZM2136.6,666.7H2477.5V683.7H2136.6ZM91.2,683.7H1744.6V700.7H91.2ZM1795.7,683.7H1983.2V700.7H1795.7ZM2119.6,683.7H2477.5V700.7H2119.6ZM91.2,700.7H1744.6V717.7H91.2ZM1795.7,700.7H1983.2V717.7H1795.7ZM2102.5,700.7H2460.5V717.7H2102.5ZM74.2,717.7H1744.6V734.7H74.2ZM1812.8,717.7H1966.2V734.7H1812.8ZM2085.5,717.7H2443.4V734.7H2085.5ZM74.2,734.7H1744.6V751.7H74.2ZM1812.8,734.7H1949.1V751.7H1812.8ZM2051.4,734.7H2409.3V751.7H2051.4ZM74.2,751.7H1744.6V768.7H74.2ZM1812.8,751.7H1949.1V768.7H1812.8ZM2034.3,751.7H2392.3V768.7H2034.3ZM74.2,768.7H1744.6V785.6H74.2ZM1795.7,768.7H1949.1V785.6H1795.7ZM1966.2,768.7H2392.3V785.6H1966.2ZM91.2,785.6H1761.6V802.6H91.2ZM1778.7,785.6H2392.3V802.6H1778.7ZM91.2,802.6H2392.3V819.6H91.2ZM91.2,819.6H2392.3V836.6H91.2ZM108.3,836.6H2375.2V853.6H108.3ZM108.3,853.6H2375.2V870.6H108.3ZM91.2,870.6H2375.2V887.6H91.2ZM108.3,887.6H2375.2V904.6H108.3ZM108.3,904.6H2375.2V921.6H108.3ZM108.3,921.6H2358.2V938.6H108.3ZM108.3,938.6H2358.2V955.5H108.3ZM108.3,955.5H2358.2V972.5H108.3ZM125.3,972.5H2358.2V989.5H125.3ZM125.3,989.5H2358.2V1006.5H125.3ZM125.3,1006.5H2358.2V1023.5H125.3ZM125.3,1023.5H2375.2V1040.5H125.3ZM125.3,1040.5H2375.2V1057.5H125.3ZM142.3,1057.5H2375.2V1074.5H142.3ZM176.4,1074.5H2375.2V1091.5H176.4ZM193.5,1091.5H2392.3V1108.5H193.5ZM210.5,1108.5H2375.2V1125.4H210.5ZM227.6,1125.4H2358.2V1142.4H227.6ZM244.6,1142.4H2324.1V1159.4H244.6ZM261.7,1159.4H2307.1V1176.4H261.7ZM261.7,1176.4H2307.1V1193.4H261.7ZM261.7,1193.4H2290V1210.4H261.7ZM261.7,1210.4H2255.9V1227.4H261.7ZM295.7,1227.4H2238.9V1244.4H295.7ZM381,1244.4H2238.9V1261.4H381ZM398,1261.4H2238.9V1278.4H398ZM415.1,1278.4H2221.8V1295.3H415.1ZM449.2,1295.3H2204.8V1312.3H449.2ZM466.2,1312.3H2187.7V1329.3H466.2ZM500.3,1329.3H2170.7V1346.3H500.3ZM534.4,1346.3H2170.7V1363.3H534.4ZM551.4,1363.3H2153.7V1380.3H551.4ZM619.6,1380.3H721.9V1397.3H619.6ZM790.1,1380.3H2153.7V1397.3H790.1ZM824.1,1397.3H2153.7V1414.3H824.1ZM841.2,1414.3H2153.7V1431.3H841.2ZM858.2,1431.3H2153.7V1448.3H858.2ZM858.2,1448.3H2153.7V1465.2H858.2ZM875.3,1465.2H2170.7V1482.2H875.3ZM892.3,1482.2H2187.7V1499.2H892.3ZM892.3,1499.2H1812.8V1516.2H892.3ZM1932.1,1499.2H2000.2V1516.2H1932.1ZM2051.4,1499.2H2187.7V1516.2H2051.4ZM892.3,1516.2H1744.6V1533.2H892.3ZM1949.1,1516.2H1983.2V1533.2H1949.1ZM2068.4,1516.2H2204.8V1533.2H2068.4ZM909.4,1533.2H1011.6V1550.2H909.4ZM1028.7,1533.2H1744.6V1550.2H1028.7ZM2085.5,1533.2H2221.8V1550.2H2085.5ZM926.4,1550.2H994.6V1567.2H926.4ZM1079.8,1550.2H1488.9V1567.2H1079.8ZM1540,1550.2H1727.5V1567.2H1540ZM2102.5,1550.2H2221.8V1567.2H2102.5ZM943.5,1567.2H977.5V1584.2H943.5ZM1096.9,1567.2H1437.8V1584.2H1096.9ZM1625.3,1567.2H1761.6V1584.2H1625.3ZM2102.5,1567.2H2238.9V1584.2H2102.5ZM1113.9,1584.2H1420.7V1601.2H1113.9ZM1642.3,1584.2H1659.3V1601.2H1642.3ZM1727.5,1584.2H1744.6V1601.2H1727.5ZM2102.5,1584.2H2238.9V1601.2H2102.5ZM1113.9,1601.2H1403.7V1618.2H1113.9ZM2102.5,1601.2H2255.9V1618.2H2102.5ZM1113.9,1618.2H1386.6V1635.2H1113.9ZM2102.5,1618.2H2255.9V1635.2H2102.5ZM1131,1635.2H1352.5V1652.1H1131ZM2119.6,1635.2H2273V1652.1H2119.6ZM1131,1652.1H1318.4V1669.1H1131ZM2136.6,1652.1H2273V1669.1H2136.6ZM1148,1669.1H1318.4V1686.1H1148ZM2136.6,1669.1H2273V1686.1H2136.6ZM1165,1686.1H1301.4V1703.1H1165ZM2153.7,1686.1H2273V1703.1H2153.7ZM1165,1703.1H1284.4V1720.1H1165ZM2170.7,1703.1H2290V1720.1H2170.7ZM1165,1720.1H1284.4V1737.1H1165ZM2187.7,1720.1H2290V1737.1H2187.7ZM1182.1,1737.1H1284.4V1754.1H1182.1ZM2221.8,1737.1H2290V1754.1H2221.8ZM1182.1,1754.1H1301.4V1771.1H1182.1ZM2221.8,1754.1H2273V1771.1H2221.8ZM1216.2,1771.1H1301.4V1788.1H1216.2ZM2136.6,1771.1H2153.7V1788.1H2136.6ZM2170.7,1771.1H2187.7V1788.1H2170.7ZM2204.8,1771.1H2221.8V1788.1H2204.8ZM1267.3,1788.1H1284.4V1805H1267.3Z"/>
<path fill="#e1edf3" stroke="#e1edf3" stroke-width="0.7" d="M210.5,496.8H244.6V513.8H210.5ZM176.4,513.8H244.6V530.8H176.4ZM159.4,530.8H227.6V547.8H159.4ZM108.3,547.8H227.6V564.8H108.3ZM108.3,564.8H227.6V581.8H108.3ZM108.3,581.8H210.5V598.8H108.3ZM108.3,598.8H210.5V615.8H108.3ZM91.2,615.8H227.6V632.7H91.2ZM91.2,632.7H244.6V649.7H91.2ZM91.2,649.7H278.7V666.7H91.2ZM74.2,666.7H278.7V683.7H74.2ZM91.2,683.7H278.7V700.7H91.2ZM91.2,700.7H295.7V717.7H91.2ZM74.2,717.7H295.7V734.7H74.2ZM74.2,734.7H176.4V751.7H74.2ZM193.5,734.7H295.7V751.7H193.5ZM74.2,751.7H176.4V768.7H74.2ZM210.5,751.7H244.6V768.7H210.5ZM74.2,768.7H176.4V785.6H74.2ZM91.2,785.6H176.4V802.6H91.2ZM91.2,802.6H176.4V819.6H91.2ZM108.3,819.6H176.4V836.6H108.3ZM125.3,836.6H193.5V853.6H125.3ZM125.3,853.6H210.5V870.6H125.3ZM142.3,870.6H193.5V887.6H142.3ZM142.3,887.6H193.5V904.6H142.3ZM159.4,904.6H193.5V921.6H159.4ZM193.5,921.6H210.5V938.6H193.5ZM176.4,955.5H210.5V972.5H176.4ZM193.5,972.5H210.5V989.5H193.5ZM2273,921.6H2307.1V938.6H2273ZM2273,938.6H2307.1V955.5H2273ZM1608.2,1533.2H1642.3V1550.2H1608.2ZM1608.2,1550.2H1642.3V1567.2H1608.2ZM1915,1465.2H1932.1V1482.2H1915ZM1915,1482.2H1932.1V1499.2H1915ZM2068.4,1482.2H2102.5V1499.2H2068.4ZM2051.4,1499.2H2068.4V1516.2H2051.4ZM2085.5,1499.2H2102.5V1516.2H2085.5ZM2085.5,1516.2H2102.5V1533.2H2085.5ZM1625.3,1567.2H1642.3V1584.2H1625.3ZM2102.5,1584.2H2136.6V1601.2H2102.5ZM2102.5,1601.2H2136.6V1618.2H2102.5ZM2102.5,1618.2H2119.6V1635.2H2102.5ZM2221.8,1618.2H2238.9V1635.2H2221.8ZM2187.7,1635.2H2273V1652.1H2187.7ZM2136.6,1652.1H2273V1669.1H2136.6ZM2136.6,1669.1H2273V1686.1H2136.6ZM2153.7,1686.1H2273V1703.1H2153.7ZM2170.7,1703.1H2255.9V1720.1H2170.7ZM2273,1703.1H2290V1720.1H2273ZM2187.7,1720.1H2255.9V1737.1H2187.7ZM2221.8,1737.1H2238.9V1754.1H2221.8ZM2221.8,1754.1H2273V1771.1H2221.8ZM2170.7,1771.1H2187.7V1788.1H2170.7ZM2204.8,1771.1H2221.8V1788.1H2204.8Z"/>
<path fill="#529dc8" stroke="#529dc8" stroke-width="0.7" d="M381,208H398V225H381ZM517.3,242H534.4V259H517.3ZM534.4,259H568.5V275.9H534.4ZM517.3,275.9H551.4V292.9H517.3ZM227.6,275.9H278.7V292.9H227.6ZM500.3,292.9H517.3V309.9H500.3ZM227.6,292.9H278.7V309.9H227.6ZM517.3,309.9H534.4V326.9H517.3ZM210.5,309.9H278.7V326.9H210.5ZM568.5,326.9H585.5V343.9H568.5ZM244.6,326.9H295.7V343.9H244.6ZM534.4,343.9H602.6V360.9H534.4ZM261.7,343.9H278.7V360.9H261.7ZM551.4,360.9H602.6V377.9H551.4ZM551.4,377.9H602.6V394.9H551.4ZM551.4,394.9H602.6V411.9H551.4ZM534.4,411.9H602.6V428.9H534.4ZM534.4,428.9H602.6V445.8H534.4ZM551.4,445.8H602.6V462.8H551.4ZM568.5,462.8H602.6V479.8H568.5ZM790.1,309.9H824.1V326.9H790.1ZM790.1,326.9H926.4V343.9H790.1ZM841.2,343.9H977.5V360.9H841.2ZM858.2,360.9H994.6V377.9H858.2ZM585.5,360.9H619.6V377.9H585.5ZM858.2,377.9H994.6V394.9H858.2ZM858.2,394.9H1011.6V411.9H858.2ZM875.3,411.9H892.3V428.9H875.3ZM909.4,411.9H1028.7V428.9H909.4ZM585.5,411.9H619.6V428.9H585.5ZM943.5,428.9H1028.7V445.8H943.5ZM585.5,428.9H619.6V445.8H585.5ZM943.5,445.8H1028.7V462.8H943.5ZM585.5,445.8H636.6V462.8H585.5ZM926.4,462.8H1011.6V479.8H926.4ZM738.9,462.8H790.1V479.8H738.9ZM619.6,462.8H653.7V479.8H619.6ZM875.3,479.8H892.3V496.8H875.3ZM909.4,479.8H1011.6V496.8H909.4ZM721.9,479.8H738.9V496.8H721.9ZM756,479.8H773V496.8H756ZM619.6,479.8H636.6V496.8H619.6ZM858.2,496.8H1011.6V513.8H858.2ZM738.9,496.8H773V513.8H738.9ZM653.7,496.8H687.8V513.8H653.7ZM619.6,496.8H636.6V513.8H619.6ZM892.3,513.8H1011.6V530.8H892.3ZM738.9,513.8H807.1V530.8H738.9ZM670.7,513.8H687.8V530.8H670.7ZM1403.7,326.9H1420.7V343.9H1403.7ZM1403.7,343.9H1420.7V360.9H1403.7ZM1420.7,377.9H1437.8V394.9H1420.7ZM1574.1,445.8H1591.2V462.8H1574.1ZM1693.4,445.8H1710.5V462.8H1693.4ZM1471.9,462.8H1574.1V479.8H1471.9ZM1676.4,462.8H1693.4V479.8H1676.4ZM1471.9,479.8H1557.1V496.8H1471.9ZM1591.2,479.8H1608.2V496.8H1591.2ZM1659.3,479.8H1727.5V496.8H1659.3ZM1471.9,496.8H1540V513.8H1471.9ZM1557.1,496.8H1591.2V513.8H1557.1ZM1625.3,496.8H1744.6V513.8H1625.3ZM1471.9,513.8H1744.6V530.8H1471.9ZM1165,513.8H1182.1V530.8H1165ZM1795.7,479.8H1829.8V496.8H1795.7ZM1744.6,496.8H1880.9V513.8H1744.6ZM2273,496.8H2341.1V513.8H2273ZM1744.6,513.8H1898V530.8H1744.6ZM2255.9,513.8H2341.1V530.8H2255.9ZM2460.5,292.9H2477.5V309.9H2460.5ZM2460.5,309.9H2477.5V326.9H2460.5ZM2307.1,479.8H2341.1V496.8H2307.1ZM2290,496.8H2341.1V513.8H2290ZM2290,513.8H2358.2V530.8H2290ZM432.1,547.8H449.2V564.8H432.1ZM398,564.8H432.1V581.8H398ZM381,581.8H415.1V598.8H381ZM381,598.8H415.1V615.8H381ZM738.9,530.8H824.1V547.8H738.9ZM841.2,530.8H1028.7V547.8H841.2ZM1131,530.8H1148V547.8H1131ZM687.8,547.8H704.8V564.8H687.8ZM721.9,547.8H824.1V564.8H721.9ZM858.2,547.8H1028.7V564.8H858.2ZM704.8,564.8H807.1V581.8H704.8ZM841.2,564.8H1045.7V581.8H841.2ZM721.9,581.8H807.1V598.8H721.9ZM858.2,581.8H1045.7V598.8H858.2ZM721.9,598.8H807.1V615.8H721.9ZM875.3,598.8H1062.8V615.8H875.3ZM738.9,615.8H807.1V632.7H738.9ZM892.3,615.8H1062.8V632.7H892.3ZM738.9,632.7H807.1V649.7H738.9ZM909.4,632.7H1062.8V649.7H909.4ZM738.9,649.7H841.2V666.7H738.9ZM943.5,649.7H1079.8V666.7H943.5ZM721.9,666.7H841.2V683.7H721.9ZM960.5,666.7H1062.8V683.7H960.5ZM687.8,683.7H841.2V700.7H687.8ZM977.5,683.7H1096.9V700.7H977.5ZM704.8,700.7H738.9V717.7H704.8ZM756,700.7H841.2V717.7H756ZM960.5,700.7H1113.9V717.7H960.5ZM977.5,717.7H1131V734.7H977.5ZM960.5,734.7H994.6V751.7H960.5ZM1011.6,734.7H1148V751.7H1011.6ZM909.4,751.7H943.5V768.7H909.4ZM994.6,751.7H1148V768.7H994.6ZM892.3,768.7H1011.6V785.6H892.3ZM1028.7,768.7H1165V785.6H1028.7ZM892.3,785.6H994.6V802.6H892.3ZM1028.7,785.6H1165V802.6H1028.7ZM875.3,802.6H960.5V819.6H875.3ZM1028.7,802.6H1148V819.6H1028.7ZM875.3,819.6H960.5V836.6H875.3ZM1045.7,819.6H1131V836.6H1045.7ZM875.3,836.6H960.5V853.6H875.3ZM1028.7,836.6H1131V853.6H1028.7ZM892.3,853.6H943.5V870.6H892.3ZM1028.7,853.6H1096.9V870.6H1028.7ZM1471.9,513.8H1744.6V530.8H1471.9ZM1488.9,530.8H1744.6V547.8H1488.9ZM1540,547.8H1744.6V564.8H1540ZM1557.1,564.8H1744.6V581.8H1557.1ZM1574.1,581.8H1744.6V598.8H1574.1ZM1574.1,598.8H1744.6V615.8H1574.1ZM1574.1,615.8H1744.6V632.7H1574.1ZM1591.2,632.7H1744.6V649.7H1591.2ZM1574.1,649.7H1744.6V666.7H1574.1ZM1557.1,666.7H1744.6V683.7H1557.1ZM1523,683.7H1744.6V700.7H1523ZM1488.9,700.7H1710.5V717.7H1488.9ZM1471.9,717.7H1693.4V734.7H1471.9ZM1471.9,734.7H1676.4V751.7H1471.9ZM1454.8,751.7H1659.3V768.7H1454.8ZM1676.4,751.7H1693.4V768.7H1676.4ZM1318.4,768.7H1335.5V785.6H1318.4ZM1437.8,768.7H1642.3V785.6H1437.8ZM1659.3,768.7H1727.5V785.6H1659.3ZM1250.3,785.6H1727.5V802.6H1250.3ZM1199.1,802.6H1710.5V819.6H1199.1ZM1199.1,819.6H1710.5V836.6H1199.1ZM1216.2,836.6H1727.5V853.6H1216.2ZM1233.2,853.6H1727.5V870.6H1233.2ZM1744.6,530.8H1795.7V547.8H1744.6ZM1846.8,530.8H1863.9V547.8H1846.8ZM2238.9,530.8H2358.2V547.8H2238.9ZM1744.6,547.8H1778.7V564.8H1744.6ZM1829.8,547.8H1898V564.8H1829.8ZM2238.9,547.8H2358.2V564.8H2238.9ZM1829.8,564.8H1880.9V581.8H1829.8ZM1898,564.8H1915V581.8H1898ZM2221.8,564.8H2341.1V581.8H2221.8ZM1744.6,581.8H1761.6V598.8H1744.6ZM1795.7,581.8H1915V598.8H1795.7ZM2238.9,581.8H2341.1V598.8H2238.9ZM1744.6,598.8H1761.6V615.8H1744.6ZM1795.7,598.8H1932.1V615.8H1795.7ZM2221.8,598.8H2341.1V615.8H2221.8ZM1795.7,615.8H1915V632.7H1795.7ZM2238.9,615.8H2341.1V632.7H2238.9ZM1795.7,632.7H1915V649.7H1795.7ZM1932.1,632.7H1966.2V649.7H1932.1ZM2119.6,632.7H2341.1V649.7H2119.6ZM1795.7,649.7H1898V666.7H1795.7ZM1932.1,649.7H1966.2V666.7H1932.1ZM2119.6,649.7H2358.2V666.7H2119.6ZM1795.7,666.7H1966.2V683.7H1795.7ZM2136.6,666.7H2341.1V683.7H2136.6ZM1795.7,683.7H1983.2V700.7H1795.7ZM2119.6,683.7H2324.1V700.7H2119.6ZM1812.8,700.7H1983.2V717.7H1812.8ZM2102.5,700.7H2273V717.7H2102.5ZM1812.8,717.7H1966.2V734.7H1812.8ZM2085.5,717.7H2170.7V734.7H2085.5ZM2204.8,717.7H2221.8V734.7H2204.8ZM1812.8,734.7H1949.1V751.7H1812.8ZM2051.4,734.7H2068.4V751.7H2051.4ZM2119.6,734.7H2136.6V751.7H2119.6ZM2170.7,734.7H2187.7V751.7H2170.7ZM1812.8,751.7H1949.1V768.7H1812.8ZM2034.3,751.7H2085.5V768.7H2034.3ZM2153.7,751.7H2170.7V768.7H2153.7ZM1795.7,768.7H1949.1V785.6H1795.7ZM1966.2,768.7H2085.5V785.6H1966.2ZM2102.5,768.7H2170.7V785.6H2102.5ZM1778.7,785.6H1932.1V802.6H1778.7ZM1983.2,785.6H2170.7V802.6H1983.2ZM1761.6,802.6H1915V819.6H1761.6ZM1983.2,802.6H2153.7V819.6H1983.2ZM1761.6,819.6H1898V836.6H1761.6ZM2034.3,819.6H2068.4V836.6H2034.3ZM2085.5,819.6H2136.6V836.6H2085.5ZM1778.7,836.6H1846.8V853.6H1778.7ZM1863.9,836.6H1898V853.6H1863.9ZM892.3,870.6H943.5V887.6H892.3ZM1028.7,870.6H1113.9V887.6H1028.7ZM892.3,887.6H943.5V904.6H892.3ZM1062.8,887.6H1113.9V904.6H1062.8ZM875.3,904.6H960.5V921.6H875.3ZM1079.8,904.6H1096.9V921.6H1079.8ZM875.3,921.6H960.5V938.6H875.3ZM1113.9,921.6H1182.1V938.6H1113.9ZM858.2,938.6H977.5V955.5H858.2ZM1062.8,938.6H1182.1V955.5H1062.8ZM841.2,955.5H994.6V972.5H841.2ZM1062.8,955.5H1182.1V972.5H1062.8ZM841.2,972.5H977.5V989.5H841.2ZM1045.7,972.5H1182.1V989.5H1045.7ZM841.2,989.5H977.5V1006.5H841.2ZM1045.7,989.5H1182.1V1006.5H1045.7ZM858.2,1006.5H977.5V1023.5H858.2ZM1045.7,1006.5H1182.1V1023.5H1045.7ZM858.2,1023.5H960.5V1040.5H858.2ZM1045.7,1023.5H1182.1V1040.5H1045.7ZM858.2,1040.5H926.4V1057.5H858.2ZM1045.7,1040.5H1182.1V1057.5H1045.7ZM858.2,1057.5H875.3V1074.5H858.2ZM1028.7,1057.5H1182.1V1074.5H1028.7ZM858.2,1074.5H875.3V1091.5H858.2ZM1011.6,1074.5H1182.1V1091.5H1011.6ZM994.6,1091.5H1182.1V1108.5H994.6ZM977.5,1108.5H1182.1V1125.4H977.5ZM960.5,1125.4H1182.1V1142.4H960.5ZM960.5,1142.4H1182.1V1159.4H960.5ZM977.5,1159.4H1182.1V1176.4H977.5ZM1079.8,1176.4H1182.1V1193.4H1079.8ZM1079.8,1193.4H1182.1V1210.4H1079.8ZM1096.9,1210.4H1182.1V1227.4H1096.9ZM1233.2,870.6H1744.6V887.6H1233.2ZM1233.2,887.6H1318.4V904.6H1233.2ZM1403.7,887.6H1744.6V904.6H1403.7ZM1250.3,904.6H1318.4V921.6H1250.3ZM1403.7,904.6H1744.6V921.6H1403.7ZM1182.1,921.6H1199.1V938.6H1182.1ZM1233.2,921.6H1318.4V938.6H1233.2ZM1403.7,921.6H1744.6V938.6H1403.7ZM1182.1,938.6H1301.4V955.5H1182.1ZM1403.7,938.6H1744.6V955.5H1403.7ZM1182.1,955.5H1301.4V972.5H1182.1ZM1403.7,955.5H1744.6V972.5H1403.7ZM1182.1,972.5H1318.4V989.5H1182.1ZM1386.6,972.5H1744.6V989.5H1386.6ZM1182.1,989.5H1744.6V1006.5H1182.1ZM1182.1,1006.5H1608.2V1023.5H1182.1ZM1642.3,1006.5H1744.6V1023.5H1642.3ZM1182.1,1023.5H1608.2V1040.5H1182.1ZM1676.4,1023.5H1744.6V1040.5H1676.4ZM1182.1,1040.5H1608.2V1057.5H1182.1ZM1676.4,1040.5H1744.6V1057.5H1676.4ZM1182.1,1057.5H1608.2V1074.5H1182.1ZM1676.4,1057.5H1727.5V1074.5H1676.4ZM1182.1,1074.5H1608.2V1091.5H1182.1ZM1182.1,1091.5H1574.1V1108.5H1182.1ZM1182.1,1108.5H1557.1V1125.4H1182.1ZM1182.1,1125.4H1540V1142.4H1182.1ZM1182.1,1142.4H1540V1159.4H1182.1ZM1182.1,1159.4H1540V1176.4H1182.1ZM1182.1,1176.4H1557.1V1193.4H1182.1ZM1591.2,1176.4H1608.2V1193.4H1591.2ZM1642.3,1176.4H1676.4V1193.4H1642.3ZM1182.1,1193.4H1676.4V1210.4H1182.1ZM1182.1,1210.4H1642.3V1227.4H1182.1ZM1744.6,955.5H1761.6V972.5H1744.6ZM1744.6,972.5H1761.6V989.5H1744.6ZM1744.6,989.5H1761.6V1006.5H1744.6ZM1744.6,1006.5H1761.6V1023.5H1744.6ZM2017.3,1006.5H2051.4V1023.5H2017.3ZM2017.3,1023.5H2051.4V1040.5H2017.3ZM1131,1227.4H1182.1V1244.4H1131ZM1148,1244.4H1182.1V1261.4H1148ZM1165,1261.4H1182.1V1278.4H1165ZM1165,1278.4H1182.1V1295.3H1165ZM1113.9,1448.3H1148V1465.2H1113.9ZM1165,1210.4H1642.3V1227.4H1165ZM1165,1227.4H1625.3V1244.4H1165ZM1165,1244.4H1608.2V1261.4H1165ZM1165,1261.4H1608.2V1278.4H1165ZM1165,1278.4H1591.2V1295.3H1165ZM1182.1,1295.3H1591.2V1312.3H1182.1ZM1182.1,1312.3H1557.1V1329.3H1182.1ZM1182.1,1329.3H1523V1346.3H1182.1ZM1199.1,1346.3H1403.7V1363.3H1199.1ZM1437.8,1346.3H1505.9V1363.3H1437.8ZM1216.2,1363.3H1267.3V1380.3H1216.2ZM1301.4,1363.3H1403.7V1380.3H1301.4ZM1454.8,1363.3H1471.9V1380.3H1454.8ZM1216.2,1380.3H1250.3V1397.3H1216.2ZM1318.4,1380.3H1386.6V1397.3H1318.4ZM1318.4,1397.3H1335.5V1414.3H1318.4ZM1352.5,1397.3H1386.6V1414.3H1352.5Z"/>
<path fill="none" stroke="#97b6e1" stroke-width="2.5" d="M514,200 508.9,212.7 512.9,227.8"/>
<path class="b" d="M237.6,191.6 246.1,199.5 254,206.1 262.5,213.6 270.9,220.6 281.7,223.9 292.5,221.1 299,201.9 304.2,188.7 303.7,182.2M251.9,346.1 258.1,354 258.8,365.6 257,380.6 261.6,385.3 279,393.4 292.9,391.5 307.9,395.7 318.3,404.5 331.1,406.8 358.9,409.6 372.8,408.4 393.6,409.1 406.3,411.9 412.1,410.3 497.8,434.6M539.5,260.2 523.3,326.2 511.7,370.2 501.3,409.6 497.8,434.6M497.8,434.6 502.4,444.3 510.5,454.7 507.1,467.5 493.2,486 478.1,506.9 460.8,524M578.9,270.6 571.9,298.4 564.5,327.4 570.8,340.1 573.1,361 576.5,370.2 585.8,381.8 592.8,400.3 599.9,416.5M632.4,180.8 644,187.3 649.1,201.2 649.8,222 646.3,235.9 639.4,247.5 645.2,252.1 642.8,259.1 648.6,270.6 655.6,277.6 657.9,286.4M843.2,179.9 817.7,321.6M1163.2,179.9 1160.4,361M1053.9,358.2 1049.3,386.4 1044.2,444.3 1036.5,524M600,414.2 615.1,424.6 604.6,446.6 600,467.5M600,490.6 613.9,484.9 620.8,491.8 622,511.5 627.8,524M1408.5,350.5 1408.5,179.9M1409.7,350.5 1420.1,354 1422.4,370.2 1427.1,386.4 1436.3,391.1 1454.9,394.5 1467.6,402.2 1478,398 1487.3,394.5 1501.2,396.9 1517.4,406.1 1522,415.4 1531.3,410.7 1545.2,418.9 1559.1,427 1570.6,422.3 1579.9,416.5 1589.2,421.6 1614.7,420.7 1623.9,427 1640.1,425.3M1327.5,374.9 1329.8,400.3 1329.8,423.5 1336.7,446.6 1340.2,467.5 1340.2,490.6 1341.4,524M1650.5,429.3 1658.7,418.9 1667.9,406.1 1679.5,394.5 1683,399.2 1674.9,411.9 1665.6,423.5 1656.3,435.1 1650.5,429.3M1739.9,430.4 1688.8,402.6 1683,399.2M2008.6,184.9 2011,203.5 2024.9,270.6 2038.7,340.1 2050.3,400.3 2058.4,421.2 2073.5,437.4 2092,459.4 2115.2,461.7 2143,461.7 2156.9,467.5 2168.4,476.7 2177.7,477.9 2181.2,471 2193.9,486 2205.5,489.5 2220.5,487.2 2231,488.3 2249.5,476.7 2268,465.2 2281.9,462.9 2287.7,465.2 2287.7,481.4M1785.2,427 1793.3,421.2 1800.7,425.8 1792.1,429.3 1785.2,427M1740,427 1837.3,471 1841.9,476.7M1832.6,497.6 1844.2,497.6 1855.8,490.6 1869.7,488.3 1872,502.2 1879,511.5 1883.6,524M2481.5,289.2 2489.6,279.9 2490.7,270.6 2486.1,252.1 2495.4,242.8 2511.6,238.7 2523.2,242.4 2539.4,233.6 2545.2,225.5M2693.4,298.4 2687.6,311.2M2413.2,464 2416.6,479.1 2421.3,488.3 2416.6,502.2 2406.2,509.2 2408.5,524M2428.2,442 2439.8,474.4 2449.1,502.2 2457.2,520.8M2341.4,486 2343.7,502.2 2349.5,516.1 2354.1,524M2280,461.7 2286.9,465.2 2286.9,481.4M119.2,569.2 210.6,601.6 296.3,630.1 427.2,669.4 558,702.3 599.9,711.6M296.3,630.1 244.2,805.4 281.3,866.8M460.8,524 458.4,533.3 470,541.4 427.2,669.4M558,703.5 519.8,870M623.2,524 626.6,534.4 630.1,543.7 638.2,549.5 642.8,570.3 650.9,566.8 661.4,571.5 669.5,568 679.9,571.5 692.6,573.8 704.2,576.1 707.7,566.8 715.8,569.2 720,578.4M726.2,554.1 719.3,598.1 708.8,653.7 692.6,730.1 682.2,791.5M726.2,554.1 808.4,568 924.2,585.4 1028.4,597.6M1036.5,526.3 1028.4,597.6 1016.9,718.5 1003,839M682.2,791.5 771.4,808.9 877.9,825.1 1003,839.4M1038.9,541.4 1169.9,552.9M1016.9,719.7 1169.9,732.4M600,710.4 692.6,730.1M771.4,808.9 762.1,866.8M1003,839.4 1093.3,849.4 1093.3,870M1170,552.3 1262.6,557.1 1350.6,559.9M1342.5,524 1348.3,535.6 1351.8,547.2 1350.6,559.9 1347.2,568 1337.2,578.4 1342.5,587.7 1354.8,595.8 1354.1,639.8 1353,708.1M1353,708.6 1471.1,708.1 1579.9,703.5M1353,708.6 1347.2,712.7 1349.5,723.2 1353,732.4 1346,751 1343.7,757.9 1348.3,766M1170,731.7 1260.3,735.9 1269.6,740.5 1278.8,747.5 1288.1,746.3 1296.2,744.7 1311.3,745.2 1320.5,749.8 1332.1,755.6 1348.3,766M1348.3,766 1355.3,774.1 1357.6,785.7 1365.7,799.6 1369.2,813.5 1369.2,825.1 1377.3,834.3 1379.6,848.2 1380.3,870M1531.3,524 1531.3,547.2 1517.4,558.7 1507,572.6 1508.1,579.6 1515.1,586.5 1512.8,602.7 1513.9,616.6 1512.8,628.2 1517.4,635.2 1527.8,639.8 1545.2,650.2 1554.4,661.8 1563.7,667.6 1577.6,674.5 1581.1,690.7 1583.4,703.5M1583.4,703.5 1589.2,713.9 1589.2,730.1 1592.6,744 1600.8,749.8 1610,754.4 1615.8,764.9 1623.9,773 1633.2,781.1 1637.8,790.3 1635.5,804.2 1627.4,818.1 1614.7,825.1 1599.6,829.7 1599.6,841.3 1604.2,852.9 1600.8,870M1615.8,762.1 1679.5,757.9 1739.9,753.3M1618.1,524 1644.8,533.3 1663.3,539.1 1674.9,543.7 1691.1,542.5 1709.6,547.2 1722.3,558.7 1723.5,572.6 1730.4,586.5 1735.1,600.4 1725.8,612 1720,622.4 1724.7,629.4M1846.5,530.9 1847.7,546 1841.9,549.5 1830.3,558.7 1830.3,577.3 1811.8,588.8 1800.2,600.4 1796.7,625.9 1792.1,642.1 1789.8,656 1793.3,665.3 1789.8,676.8 1795.6,688.4 1802.5,700 1809.5,716.2 1811.8,739.4 1807.2,757.9 1800.2,774.1 1796.7,781.1 1792.1,790.3 1779.4,800.7 1765.5,801.9 1758.5,792.6 1746.9,778.7 1742.3,769.5 1740,755.6M2038.7,524 2048,530.9 2057.3,542.5 2064.2,554.1 2073.5,562.2 2057.3,565.7 2064.2,572.6 2061.9,584.2 2041.1,580.7 2027.2,576.1 2016.7,565.7 2006.3,550.6 2004,547.2 1986.6,547.2 1985.5,551.8 1994.7,552.9 2006.3,564.5 2011,579.6 2001.7,600.4 1997.1,621.3 2004,656 2001.7,667.6 1992.4,676.8 1983.2,685 1978.5,683.8 1971.6,676.8 1967,653.7 1948.4,631.7 1932.2,632.8 1916,663 1902.1,660.6 1902.1,650.2 1911.4,635.2 1920.6,616.6 1923,600.4 1916,563.4 1899.8,549.5 1863.9,530.9 1846.5,530.9M1902.1,530.9 1950.7,558.7 1969.3,612 1983.2,663 1978.5,683.8M1976.2,716.2 1967,720.9 1965.8,727.8 1955.4,741.7 1953.1,755.6M1953.1,753.3 1962.3,755.6 1980.9,752.1 1985.5,746.3 1992.4,739.4 2006.3,727.8 2017.9,713.9 2027.2,707 2041.1,702.3 2064.2,701.2 2073.5,696.5 2071.2,693.1 2082.8,683.8 2101.3,676.8 2119.8,672.2 2133.7,669.9M2133.7,676.8 2119.8,700 2103.6,716.2 2087.4,730.1 2068.9,737.1 2052.6,753.3 2034.1,769.5 2001.7,783.4 1983.2,788 1950.7,785.7 1953.1,755.6M1965.8,764.9 1971.6,771.8 2001.7,755.6 2041.1,732.4 2082.8,709.3 2119.8,683.8M2092,649.1 2094.3,639.8 2101.3,628.2 2115.2,614.3 2133.7,605.1 2156.9,595.8 2175.4,588.8 2180,579.6 2193.9,574.9 2200.9,584.2 2207.8,572.6 2221.7,565.7 2237.9,558.7M2237.9,558.7 2240.2,570.3 2240.2,602.7 2221.7,621.3 2187,632.8 2154.5,631.7 2119.8,639.8 2105.9,656 2092,649.1M2124.4,653.7 2119.8,632.8 2156.9,616.6 2212.4,603.9 2237.9,570.3M2133.7,669.9 2131.4,663 2122.1,656M2240.2,558.7 2247.2,544.8 2255.3,528.6M1793.3,791.5 1881.3,780.4 1949.6,773M1881.3,780.4 1892.8,870M1759.7,799.6 1763.2,836.6 1765.5,870M2071.2,737.1 2097.8,870M2103.6,725 2110.5,729 2203.2,709.3 2309.9,686.1M2082.8,822.7 2087.4,834.3 2082.8,870M2097.8,870 2309.9,833.2M1740,573.8 1746.9,563.4 1763.2,547.2 1779.4,537.9 1796.7,532.1 1816.4,527.5 1839.6,526.3M1740,616.6 1746.9,600.4 1753.9,581.9 1760.8,566.8 1753.9,554.1 1744.6,573.8M2350.6,524 2354.1,547.2 2359.9,565.7 2365.7,566.8 2370.3,579.6 2376.1,600.4 2380.7,615.5M2408.5,524 2406.2,547.2 2406.2,565.7 2409.7,588.8 2408.5,600.4 2413.2,606.2M2458.3,524 2463,537.9 2468.7,549.5 2476.9,556.4M2380.7,615.5 2413.2,606.9 2465.3,593.5 2472.2,584.2 2479.2,578.4M2380.7,615.5 2380.7,653.7 2383.1,663M2383.1,658.3 2413.2,653.2 2456,639.8 2474.5,635.2 2479.2,644.4 2481.5,649.1M2456,639.8 2463,663 2467.6,676.8M2383.1,663 2388.8,690.7 2394.6,707 2388.8,720.9M2337.9,713.9 2378.4,726.6M2337.9,713.9 2332.1,732.4 2326.3,741.7 2329.8,751 2327.5,760.2 2334.4,769.5 2356.4,786.9 2348.3,797.3M2280,689.6 2296.2,686.1 2305.5,687.3 2314.7,693.1 2319.4,702.3 2326.3,710.4 2337.9,713.9M2280,833.2 2312.4,825.1 2325.2,814.6M2317.1,827.4 2322.8,848.2 2328.6,870M282.4,870 433,1110.9M523.3,870 490.9,1000.8M490.9,1000.8 479.3,1048.3 471.2,1056.4 463.1,1046 451.5,1043.7 442.2,1049.5 438.8,1090 433,1110.9M490.9,1000.8 599.9,1024M433,1110.9 434.1,1127.1 438.8,1147.9 446.9,1157.2 428.3,1173.4 419.1,1194.2 400.5,1216M762.1,870 730.8,1048.3M730.8,1048.3 704.2,1216M600,1024 730.8,1048.3M730.8,1048.3 877.9,1071.5 1074.8,1092.8M1092.1,872.3 1088.7,909.4 1074.8,1092.8M1088.7,909.4 1169.9,915.2M1074.8,1092.8 1169.9,1099.3M1026.1,1088.9 1023.8,1119M1023.8,1119 1169.9,1130.5M1023.8,1119 1012.2,1216M1169.9,1130.5 1167.4,1216M1170,914 1285.8,919.8 1399.3,922.1M1380.3,870 1378.4,879.3 1385.4,887.4 1387.7,900.1 1395.8,907.1 1399.3,922.1 1413.2,929.1 1423.6,931.4 1415.5,946.4 1419,958 1427.1,967.3 1437.5,975.4M1437.5,975.4 1438.6,1136.3M1387.7,885.1 1471.1,882.7 1568.3,879.7 1577.6,887.4 1584.5,893.2M1596.1,873.5 1584.5,893.2 1582.2,909.4 1586.9,927.9 1598.4,939.5 1614.7,953.4 1623.9,967.3 1626.2,977.7 1630.9,981.2 1635.5,978.4 1647.1,980 1652.9,984.6 1647.1,1002 1642.4,1018.2 1647.1,1027.5 1658.7,1035.6 1672.5,1043.7 1685.3,1054.1 1689.9,1066.9 1688.8,1078.4 1695.7,1090 1705,1091.2 1710.8,1099.3 1707.3,1115.5 1698,1123.6 1689.9,1124.7 1686.4,1141 1683,1157.2 1685.3,1164.1 1676,1175.7 1670.2,1194.2 1667.9,1216M1170,1099.3 1309,1104.4 1438.6,1105.8M1438.6,1136.3 1540.5,1133.5 1658.7,1127.1 1665.6,1136.3 1656.3,1150.2 1650.5,1159.5 1683,1157.2M1438.6,1136.3 1444.4,1171.1 1449.1,1203.5 1449.1,1216M1739.9,1071.5 1718.9,1080.7 1709.6,1084.2 1705,1091.2M1700.3,1124.7 1739.9,1121.3M1170,1128.2 1168.8,1216M1765.5,870 1770.1,904.7 1772.4,937.2 1767.8,953.4 1774.7,965 1777.1,976.5 1771.3,996.2 1760.8,1006.6 1756.2,1020.5 1757.4,1036.7M1740,1066.9 1752.7,1059.9 1756.2,1039.1 1765.5,1029.8 1774.7,1034.4 1779.4,1028.6 1788.6,1028.6 1799.1,1033.3 1806,1028.6 1813,1022.8 1823.4,1027.5 1830.3,1020.5 1832.6,1010.1 1839.6,1009 1848.8,1017.1 1855.8,1015.9 1859.3,1004.3 1867.4,996.2 1874.3,985.8 1879,969.6 1889.4,969.6 1899.8,965 1906.7,956.8 1902.1,941.8 1911.4,941.8 1920.6,939.5 1932.2,952.2 1943.8,956.8 1957.7,961.5 1965.8,958 1976.2,961.5 1994.7,952.2 2004,959.2 2014.4,966.1M1894,870 1902.1,940.6M2014.4,966.1 2021.4,967.3 2027.2,958 2031.8,946.4 2030.6,934.8 2037.6,926.7 2044.5,932.5 2046.9,925.6 2049.2,912.8 2059.6,900.1 2071.2,895.5 2080.4,883.9 2082.8,870M2014.4,966.1 2015.6,983.5 2024.9,995.1 2036.4,1009 2050.3,1015.9M2050.3,1015.9 2045.7,1026.3 2029.5,1041.4 2017.9,1057.6 2006.3,1069.2 1992.4,1080.7 1980.9,1085.4M2050.3,1015.9 2059.6,1027.5 2073.5,1033.3 2085.1,1025.2 2092,1027.5 2108.2,1020.5 2108.2,1014.7 2119.8,1010.1 2131.4,1004.3 2133.7,992.7 2131.4,990.4 2143,962.6 2149.9,939.5 2154.5,932.5 2163.8,938.3 2170.8,937.2 2177.7,914 2187,909.4 2196.2,897.8 2200.9,883.9 2203.2,870M2147.6,870 2151.1,890.8 2156.9,889.7 2170.8,874.6M2203.2,870 2228.7,881.6 2231,874.6 2242.5,874.6 2261.1,883.9 2275,887.4M1740,1120.6 1760.8,1119 1764.3,1106.2 1980.9,1086.5 2064.2,1071.5 2078.1,1070.3 2309.9,1025.2M2078.1,1071.5 2075.8,1083.1 2064.2,1101.6 2050.3,1103.9 2038.7,1116.6 2024.9,1120.1 2017.9,1131.7 1994.7,1147.9 1980.9,1152.5 1971.6,1164.1 1961.2,1173.4 1961.2,1186.1M1740,1212.8 1892.8,1197.7 1961.2,1188.4 2020.2,1180.3M2020.2,1180.3 2057.3,1160.6 2122.1,1153.7 2129.1,1159.5 2138.3,1161.8 2140.6,1171.1 2196.2,1161.8 2261.1,1204.6M2020.2,1180.3 2012.1,1196.5 2024.9,1208.1 2041.1,1212.8 2043.4,1216M1892.8,1197.7 1902.1,1216M2319,830 2337.5,898.3 2368.7,891.4M2356,921.5 2367.6,918M2180,864.7 2203.2,857.8 2221.7,854.3 2228.6,860.1 2229.8,883.3 2205.5,870.5 2202,887.9 2193.9,901.8 2180,913.4M2229.8,867.1 2247.2,876.3 2268,885.6 2275,885.6M2180,1053.5 2351.4,1015.3M2180,1163.5 2196.2,1161.6 2221.7,1176M401.7,1221.8 409.8,1232.2 409.8,1242.6 400.5,1250.7 391.3,1248.4M703.1,1216 671.8,1394.3M808.4,1385.1 803.8,1373.5 991.4,1395.5M1011.1,1220.6 1003,1308.6 991.4,1395.5M1170,1249.6 1181.6,1260 1193.2,1260 1198.9,1257.7 1205.9,1265.8 1207.1,1271.6 1223.3,1276.2 1234.8,1278.5 1243,1283.2 1251.1,1278.5 1261.5,1279.7 1263.8,1287.8 1271.9,1297.1 1283.5,1290.1 1290.4,1295.9 1299.7,1298.2 1309,1298.2 1312.4,1306.3 1318.2,1293.6 1327.5,1297.1 1336.7,1295.9 1353,1307.5 1366.9,1298.2 1378.4,1298.2 1390,1293.6 1399.3,1298.2 1409.7,1292.4 1420.1,1298.2 1431.7,1307.5 1447.9,1311 1456,1315.6 1469.9,1316.7M1449.1,1216 1447.9,1311M1469.9,1316.7 1471.1,1350.3M1471.1,1350.3 1621.6,1346.4M1471.1,1350.3 1472.2,1412.9 1482.6,1424.4 1486.1,1440.6 1494.2,1452.2 1501.2,1470.7 1498.9,1487 1491.9,1503.2 1493.1,1526.3 1490.8,1540.2 1481.5,1551.8M1663.3,1218.3 1650.5,1234.5 1647.1,1255.4 1633.2,1271.6 1629.7,1282 1625.1,1285.5 1623.9,1297.1 1618.1,1304 1618.1,1313.3 1622.8,1324.8 1623.9,1338.7 1621.6,1346.4 1625.1,1355 1623.9,1366.5 1629.7,1378.1 1636.7,1387.4 1630.9,1403.6 1619.3,1415.2 1613.5,1424.4 1607.7,1440.6 1605.4,1456.9 1601.9,1470.7M1601.9,1471.9 1702.7,1466.1 1705,1473.1 1701.5,1487 1709.6,1499.7 1717.7,1514.7M1663.3,1218.3 1739.9,1216M1772.4,1220.6 1768.9,1401.3 1774.7,1447.6 1780.5,1497.4M1901,1216 1916,1269.3 1929.9,1308.6 1939.2,1331.8 1949.6,1348 1953.1,1360.7 1947.3,1368.8 1945,1387.4 1951.9,1401.3 1953.1,1424.4 1957.7,1436M1957.7,1438.3 1821.1,1454.5 1821.1,1465 1831.5,1474.2 1832.6,1491.6M1957.7,1436 1968.1,1455.7 2112.9,1445.3 2122.1,1447.6 2115.2,1455.7 2122.1,1452.2 2119.8,1431.4 2129.1,1426.7 2145.3,1427.9M2042.2,1216 2057.3,1236.8 2080.4,1254.2 2096.6,1264.6 2108.2,1280.8 2119.8,1285.5 2131.4,1307.5 2145.3,1317.9 2154.5,1336.4 2163.8,1341.1M1702.1,1480 1701.4,1488.3 1706.3,1495.2 1713.2,1504.8 1717.3,1514.5M1530.1,516.1 1540.5,503.4 1559.1,483.7 1575.3,465.2 1593.8,449 1610,438.5 1626.2,429.3 1640.1,425.3 1647.1,422.3 1648.2,409.6 1651.7,396.9 1663.3,388.7 1677.2,374.9 1686.4,363.3 1698,361 1702.7,366.7 1714.2,370.2 1725.8,366.7 1739.9,369.1 1740,367.9 1749.3,365.1 1759.7,367.9 1766.6,376 1772.4,391.1 1781.7,403.8 1789.8,410.7 1799.1,413.1 1809.5,410.7 1821.1,408.4 1831.5,410.7 1826.8,421.2 1825.7,431.6 1837.3,438.5 1845.4,444.3 1841.9,455.9 1839.6,467.5 1848.8,471 1857,479.1 1848.8,495.3 1832.6,497.6 1832.6,497.6 1832.6,481.4 1828,479.1 1816.4,483.7 1795.6,488.3 1779.4,495.3 1765.5,505.7 1753.9,506.4 1740,506.9 1739.9,509.2 1735.1,504.5 1725.8,495.3 1714.2,486 1700.3,486 1691.1,490.6 1688.8,481.4 1693.4,474.4 1702.7,462.9 1714.2,452.4 1702.7,455.9 1686.4,465.2 1677.2,474.4 1658.7,488.3 1642.4,495.3 1623.9,504.5 1610,516.1 1598.4,517.3 1586.9,513.8 1593.8,499.9 1605.4,488.3 1584.5,496.4 1563.7,504.5 1540.5,511.5 1530.1,516.1 1530.1,516.1"/>
<path class="n" d="M1409.7,374.9 1408.5,350.5M2280,502.2 2342.5,486 2413.2,464M2413.2,464 2416.6,444.3 2428.2,442 2439.8,427 2438.6,418.9 2446.7,407.3 2449.1,394.5 2443.3,374.9 2446.7,358.6 2444.4,344.7 2460.6,291.5 2469.9,291.5 2473.4,300.7 2479.2,300.7 2497.7,284.5 2523.2,292.6 2529,307.7 2551,363.3 2549.8,371.4 2564.9,367.9 2571.8,381.8 2576.4,393.4 2585.7,394.5M1977.4,685 1976.2,716.2M269.7,1227.6 391.3,1248.4 385.5,1260 567.3,1375.8 599.9,1381.6M600,1381.6 671.8,1394.3 715.8,1402.4 720.4,1375.8 803.8,1388.5 808.4,1385.1 815.4,1389.7 822.3,1408.2 840.9,1424.4 859.4,1447.6 877.9,1463.8 887.2,1473.1 893,1493.9 895.3,1514.7 901.1,1528.6 912.6,1542.5 926.5,1556.4 938.1,1562M989.1,1562 998.3,1543.7 1007.6,1537.9 1016.9,1536.8 1025,1532.1 1035.4,1536.8 1053.9,1540.2 1067.8,1541.4 1077.1,1551.8 1088.7,1562M935.8,1562 947.4,1571.3 959,1579.4 968.2,1582.4 975.2,1578.2 982.1,1571.3 989.1,1566.6 991.4,1562M1088.7,1562 1095.6,1573.6 1109.5,1587.5 1113,1601.4 1123.4,1622.2 1126.9,1636.1 1137.3,1650 1148.9,1668.5 1155.8,1676.6 1166.2,1684.7 1168.6,1701 1169.9,1724.1M1170,1689.4 1171.2,1719.5 1179.3,1733.4 1183.9,1747.3 1190.8,1761.2 1202.4,1765.8 1211.7,1772.7 1227.9,1778.5 1239.5,1785.5 1260.3,1787.8 1271.9,1791.3 1283.5,1798.2 1292.7,1794.7 1298.5,1791.3M322.3,187.3 363.5,201.2 398.2,212.7 465.4,235.9 539.5,260.2 599.9,273 653.7,286.8M822.3,322.7 926.3,340.1 1053.9,357.5 1169.9,366.7 1327.5,374.4 1409.7,374.9"/>
<path class="c" d="M653.7,286.8 739,306.5 822.3,322.7"/>
<path class="c" d="M235.8,197.6 232.5,203.7 228.7,214 227.8,224.4 232,233.7 233,243.1 230.1,254.3 229.2,267.5 227.3,279.7 225.9,286.7 239.5,290.9 225.5,293 224.1,301.2 230.1,306.8 223.1,310M235.8,197.6 241.9,201.9 251.2,210.3 255,215.9 262.5,221.1 275.6,228.1 284,232.8 290.6,232.3 293.9,236.5 296.7,239.8 303.7,240.1 304.2,245 304.8,252.5 296.2,257.6 285,264.7 277.5,272.2 274.2,277.8 278.4,279.2 285.4,277.8M281.2,273.6 290.6,267.5 300,262.8 307.9,258.6 309.3,253.4 307.5,245 307.9,235.6 312.2,228.1 317.8,226.2 321.1,230 322,235.6 317.8,241.2 321.5,245 323.4,251.5 317.8,259 312.2,263.7 310.7,273.1 307.5,285.3 304.7,290.9 299,290.9 292.5,296.5 286.9,299.3 283.1,296.5 274.7,292.3 280.3,285.3 287.8,283.9 291.5,288.1 287.8,292.8 294.3,290 297.6,280.6 298.1,269.3 303.7,265.6 307.5,269.3 305.6,277.8 302.8,285.3M318.7,178.4 322,188.7 322.5,198.1 323.9,202.8 326.7,203.7 326.2,210.3 323.9,218.7 321.5,221.1 315.9,221.1 317.8,226.2M234.8,178.4 240,185 255,198.1 266.2,207.5 275.6,214 279.4,215.9 284,213.1 288.7,215 291.5,211.2 291.1,198.1 289.7,178.4M285.9,178.4 286.4,193.4 286.9,203.7 289.7,205.6M292.5,181.2 294.3,188.7 293.4,196.2M223.6,309.5 218.7,321.6 214.8,326.7 218.1,333.6 213,349.4 207.2,365.6 201.4,377.6 192.1,395.7 184,411.9 178.2,428.1 173.6,437.4 165.5,453.6 157.4,471 149.3,481.4 143,489.5 131.9,504.5 122.6,516.6 121.5,524M226.9,301.9 231.7,306.8 225.9,319.3M214.8,326.7 223.4,328.5 233.3,331.3 237.7,338.3 244.2,344.3 251.9,346.1M218.1,333.6 226.9,337.8 235.7,340.1 239.6,344.3 245.4,347.1 251.9,346.6M143,489.5 150.4,487.2M1955.4,193.1 1962.3,184.9 1970.4,179.9M1990.1,179.9 2001.7,189.6 2017.9,203.5M2614.6,175.7 2613.5,187.3 2604.2,198.8 2597.3,204.6 2585.7,204.6 2573,202.3 2567.2,209.3 2555.6,215.1 2545.2,225.5 2557.9,219.7 2569.5,219.7 2588,222 2596.1,228.5 2603.1,222 2608.9,215.1 2620.4,210.4 2627.4,212.7 2627.4,228.9 2629.7,238.2 2620.4,255.6 2632,252.1 2640.1,249.8 2643.6,261.4 2652.9,270.6 2662.1,279.9 2671.4,291.5 2687.6,289.2 2699.2,290.3 2693.4,298.4 2703.8,298.4 2720,297.3 2729.3,298.4 2740.9,291.5 2752.4,290.3 2755.9,296.1 2766.3,286.8 2773.3,277.6 2780.2,270.6 2787.2,275.3 2796.4,275.3 2808,270.6 2823.1,279.9M2812.7,270.6 2801.1,259.1 2794.1,245.2 2795.3,224.3 2797.6,205.8 2803.4,187.3 2810.3,181.5 2823.1,184.9M2464.1,175.7 2453.7,191.9 2446.7,208.1 2439.8,228.9 2434,247.5 2428.2,256.7 2427.1,277.6 2419,303.1 2410.8,321.6 2405.1,337.8 2395.8,350.5 2406.2,344.7 2410.8,340.1 2421.3,326.2 2430.5,307.7 2439.8,277.6 2449.1,254.4 2460.6,233.6 2472.2,215.1 2488.4,196.5 2509.3,175.7M2400.4,343.6 2393.5,352.8 2372.6,369.1 2358.7,383 2347.2,399.2 2333.3,410.7 2326.3,431.6 2321.7,445.5 2310.1,461.7 2293.9,484.9 2280,501.1M2401.6,345.9 2394.6,355.2 2373.8,371.4 2359.9,385.3 2348.3,401.5 2334.7,413.1 2327.7,433.9 2324,447.8 2312.4,464 2295.3,487.2 2280,503.4M2324,447.8 2314.7,446.6 2307.8,455.9 2303.2,467.5 2289.3,468.6 2280,467.5M2428.2,255.6 2395.8,252.6 2381.9,257.9 2371.5,256.3M2428.2,257.2 2395.8,254.4 2381.9,259.5 2371.5,256.3M2742,182.6 2745.5,191.9 2751.3,194.2M2630.9,190.7 2632.5,201.2 2630.2,212.7M123.8,524 122.6,533.3 116.8,547.2 114.5,558.7 119.2,569.2 112.2,579.6 115.7,586.5 113.4,602.7 104.1,616.6 98.3,628.2 87.9,639.8 79.8,650.2 75.2,665.3 82.1,679.2 87.9,700 85.6,711.6 79.8,723.2 78.6,739.4 74,753.3 79.8,767.2 85.6,781.1 92.1,790.3 92.5,799.6 96,811.2 86.7,818.1 97.2,829.7 107.6,836.6 105.3,839 101.8,852.9 99.5,870M107.6,836.6 109.9,825.1 113.4,818.6 119.2,818.1 125,825.1 135.4,825.1 143.5,832 157.4,837.8M109.9,839 113.4,834.3 116.8,848.2 121.5,862.1 116.8,857.5 111.1,848.2 109.9,839M2372.6,712.7 2378.4,718.5 2381.9,732.4 2379.6,746.3M99.5,870 100.6,876.9 106.4,889.7 118,896.6 120.3,904.7 115.7,912.8 108.7,917.5 105.3,930.2 111.1,944.1 115.7,958 119.2,971.9 121.5,980 127.3,988.1 131.9,997.4 136.5,1004.3 131.9,1013.6 141.2,1022.8 137.7,1032.1 135.4,1043.7 130.7,1055.3 136.5,1064.5 155.1,1069.2 169,1078.4 178.2,1080.7 192.1,1094.6 192.1,1101.6 201.4,1108.5 210.6,1114.3 224.5,1119 229.2,1131.7 225.7,1138.6 231.5,1142.1 233.8,1139.1 240.7,1144.4 247.7,1154.9 255.8,1164.1 263.9,1178 268.5,1191.9 268.5,1203.5 265.1,1216M2366.4,861.3 2365.3,848.5 2356,846.2 2342.1,842.7 2332.8,834.6 2328.2,830M2346.7,979.4 2342.1,969 2342.1,950.4 2349.1,925 2339.8,927.3 2337.5,920.3 2330.5,908.7 2325.9,911.1 2314.3,904.1 2312,897.2 2323.6,892.5 2309.7,887.9 2305.1,876.3 2307.4,864.7 2300.4,857.8 2307.4,843.9 2309.7,834.6M2309.7,834.6 2298.1,848.5 2288.8,862.4 2295.8,876.3 2291.2,901.8 2305.1,918 2315.5,928.4M2315.5,928.4 2300.4,922.6 2284.2,919.2 2272.6,920.3 2265.7,922.6 2263.4,908.7 2270.3,897.2 2272.6,887.9M2275,931.9 2291.2,941.2 2309.7,955.1 2319,945.8 2321.3,936.5 2309.7,931.9 2288.8,925M2328.2,969 2319,955.1 2309.7,956.2 2300.4,969 2319,978.2 2309.7,982.8 2281.9,984M2309.7,982.8 2316.6,992.1 2323.6,1001.4 2332.8,989.8 2342.1,993.3 2349.1,994.4M2353.7,1010.6 2356,1024.5 2369.9,1036.1 2356,1033.8 2349.1,1033.8 2346.7,1043.1 2339.8,1045.4 2337.5,1052.3 2325.9,1053.5 2321.3,1043.1M2325.9,1060.4 2342.1,1058.1 2356,1053.5 2363,1048.9 2372.2,1048.9 2379.2,1061.6 2376.9,1070.9 2365.3,1087.1 2358.3,1090.5 2346.7,1088.2 2342.1,1083.6 2338.6,1090.5 2328.2,1091.7 2316.6,1088.2M2328.2,1094 2346.7,1098.6 2342.1,1114.9 2332.8,1119.5 2321.3,1111.4M2332.8,1120.6 2353.7,1113.7 2363,1117.2 2356,1138M1481.5,1551.8 1487.3,1544.9 1489.6,1549.5 1482.6,1558.8M429.5,1738 421.4,1758.9 414.4,1768.1 420.2,1770.4 421.4,1782 428.3,1786.6 435.3,1787.8 443.4,1802.9M465.4,1647.7 470,1661.6M599.9,1714.8 593.9,1721.8 592.8,1740.3 599.9,1749.6M1436.3,1580.5 1415.5,1593.3M1401.6,1608.3 1371.5,1627.3M1346,1641.9 1322.8,1655.8 1309,1670.8M1307.8,1676.6 1295.1,1694 1289.3,1712.5 1290.4,1740.3 1296.2,1765.8 1299.7,1790.1M1540.5,1562 1559.1,1564.3 1586.9,1563.2 1598.4,1568.9 1603.1,1562M1610,1562 1629.7,1565.5 1635.5,1574.7 1627.4,1577.1 1656.3,1586.3 1665.6,1578.2 1679.5,1575.9 1688.8,1586.3 1695.7,1580.5 1696.9,1566.6 1691.1,1562M1709.6,1566.6 1725.8,1573.6 1739.9,1587.5M2221.7,1559.7 2226.3,1568.9 2231,1582.8 2244.9,1603.7 2262.2,1631.5M2280.8,1751.9 2272.7,1768.1 2263.4,1782M2115.2,1943.5 2130.4,1932.9 2160.9,1923.7 2179.1,1913.1 2197.4,1907 2227.9,1905.5 2246.1,1900.9 2253.7,1905.5 2264.4,1900.9 2284.2,1897.3 2294.8,1902.4 2307,1904 2319.2,1900.9 2334.4,1902.4 2340.5,1907 2352.7,1914.6 2367.9,1923.7 2380.1,1926.8 2392.2,1923.7 2407.5,1921.6 2428.8,1926.8 2444,1931.4 2457.7,1937.4 2465.3,1943.5M2348.1,1904 2367.9,1911.6M2480.5,1937.4 2495.7,1942M2203.5,1940.5 2215.7,1938.4 2227.9,1941.1M2810.8,1847.6 2818.4,1850.7M265.1,1216 269.7,1220.6 268.5,1239.2 274.3,1250.7 274.3,1264.6 284.7,1276.2 282.4,1283.2 275.5,1283.2 279,1285.5 276.6,1294.7 284.7,1311 289.4,1322.5 285.9,1334.1 296.3,1348 292.9,1371.2 301,1380.4 298.6,1396.6 295.2,1402.4 298.6,1403.6 299.8,1416.3 321.8,1441.8 331.1,1447.6 342.6,1468.4 354.2,1491.6 364.6,1507.8 368.1,1519.4 361.2,1533.3 349.6,1547.2 335.7,1551.8 326.4,1550.6 304.4,1542.5 305.6,1549.5 314.9,1562 314.9,1562 327.6,1575.9 326.4,1587.5 333.4,1594.4 342.6,1599.1 349.6,1609.5 357.7,1612.9 363.5,1626.8 368.1,1631.5 377.4,1628 387.8,1630.3 395.9,1622.2 393.6,1636.1 398.2,1647.7 414.4,1667.4 429.5,1677.8 436.4,1696.3 438.8,1707.9 436.4,1719.5 438.8,1724.1 434.1,1740.3 428.3,1756.5 427.2,1763.5 433,1772.7 439.9,1782 438.8,1787.8 446.9,1790.1 456.1,1802.9 479.3,1823.7 495.5,1848 512.9,1861.9 519.8,1883.9 522.1,1908 523,1912 527,1916.5 536,1916.5 545,1912 546.4,1908 558,1903.6 563.8,1895.5 567.3,1883.9 562.7,1875.8 553.4,1870 552.2,1860.7 546.4,1846.9 537.2,1830.6 526.8,1819.1 522.1,1820.2 522.1,1830.6 516.3,1834.1 514,1829.5 508.2,1826 502.4,1814.4 501.3,1798.2 507.1,1784.3 505.9,1772.7 499,1758.9 496.7,1736.8 490.9,1731.1 485.1,1712.5 487.4,1694 483.9,1669.7 480.4,1663.9 481.6,1655.8 470,1641.9 465.4,1644.2 459.6,1633.8 461.9,1628 453.8,1617.6 450.3,1608.3 449.2,1596.7 437.6,1584 430.6,1572.4 431.8,1562 431.8,1562 433,1549.5 430.6,1535.6 421.4,1526.3 417.9,1506.6 412.1,1504.3 411,1497.4 404,1495.1 402.9,1482.3 395.9,1463.8 386.6,1449.9 379.7,1438.3 370.4,1429.1 364.6,1417.5 361.2,1403.6 365.8,1382.7 367,1355 363.5,1342.2 370.4,1317.9 377.4,1308.6 370.4,1295.9 370.4,1295.9 386.6,1306.3 405.2,1328.3 415.6,1329.5 419.1,1324.8 433,1336.4 433,1345.7 446.9,1352.6 459.6,1361.9 458.4,1368.8 453.8,1370 451.5,1389.7 458.4,1412.9 460.8,1433.7 465.4,1456.9 472.3,1473.1 471.2,1482.3 478.1,1488.1 477,1505.5 488.5,1521.7 493.2,1533.3 500.1,1544.9 508.2,1551.8 511.7,1562 510.5,1562 516.3,1574.7 523.3,1584 532.5,1589.8 536,1587.5 553.4,1595.6 546.4,1607.2 545.3,1619.9 551.1,1633.8 560.3,1643.1 576.5,1650 577.7,1663.9 583.5,1674.3 599.9,1676.6 600,1677.8 609.3,1690.5 610.4,1703.3 615.1,1711.4 609.3,1706.7 600,1716M600,1751.9 611.6,1750.7 623.2,1745 609.3,1755.4 610.4,1761.2 625.5,1760 626.6,1768.1 641.7,1779.7 646.3,1785.5 663.7,1794.7 664.8,1798.2 649.8,1792.4 654.4,1801.7 663.7,1814.4 661.4,1823.7 667.2,1830.6 678.7,1834.1 689.2,1836.4 690.3,1844.5 673,1836.4 711.2,1872.3 718.1,1881.6 726.2,1897.8 733.2,1908 738.7,1921.7 746.5,1933.5 753.6,1951M2823.1,300.7 2808,312.3 2794.1,326.2 2777.9,340.1 2761.7,354 2750.1,363.3 2747.8,374.9 2733.9,378.3 2720,381.8 2717.7,391.1 2724.7,395.7 2715.4,409.6 2713.1,425.8 2706.1,442 2696.9,449 2699.2,459.4 2685.3,464 2676,455.9 2666.8,458.2 2659.8,449 2650.5,435.1 2649.4,411.9 2659.8,395.7 2673.7,370.2 2687.6,351.7 2696.9,341.3 2715.4,326.2 2737.4,321.6 2720,335.5 2710.8,344.7 2715.4,355.2 2703.8,350.5 2698,342.9 2685.3,348.2 2674.9,347.1 2678.3,335.5 2684.1,317 2680.6,311.2 2671.4,310 2679.5,319.3 2673.7,340.1 2662.1,358.6 2648.2,374.9 2637.8,370.2 2629.7,361 2625.1,370.2 2613.5,381.8 2601.9,394.5 2590.3,391.1 2585.7,394.5 2595,400.3 2599.6,409.6 2601.9,418.9 2590.3,423.5 2578.7,435.1 2569.5,439.7 2564.9,451.3 2553.3,455.9 2537.1,451.3 2531.3,462.9 2534.7,476.7 2530.1,488.3 2520.9,495.3 2511.6,499.9 2502.3,511.5 2495.4,516.1 2491.9,524 2496.5,526.3 2488.4,542.5 2485,561.1 2482.6,565.7 2483.8,579.6 2489.6,585.4 2496.5,587.7 2491.9,593.5 2487.3,598.1 2482.6,612 2495.4,612 2502.3,619 2508.1,625.9 2511.6,629.4 2516.2,634 2523.2,636.3 2531.3,635.6 2523.2,613.9 2531.3,614.3 2540.5,621.3 2544,632.8 2544,635.2 2525.5,644.4 2516.2,651.4 2511.6,643.3 2502.3,653.7 2495.4,660.6 2488.4,663 2483.8,653.7 2479.2,649.1 2481.5,667.6 2469.9,679.2 2456,685 2444.4,688.4 2432.8,694.2 2419,697.7 2412,707 2400.4,716.2 2391.2,725.5 2384.2,737.1 2381.9,746.3 2372.6,753.3 2372.6,760.2 2384.2,762.5 2388.8,769.5 2391.2,778.7 2390.7,801.9 2388.8,815.8 2381.9,825.1 2377.3,834.3 2372.6,848.2 2368,859.8 2364.5,857.5 2365.7,848.2 2356.4,845.9 2342.5,842.4 2333.3,834.3 2328.6,825.1 2332.1,815.8 2341.4,808.9 2347.2,797.3 2354.1,790.3 2347.2,798.4 2342.1,810 2332.8,817 2329.8,829.7 2335.6,841.3 2344.8,852.9 2351.8,864.4 2358.7,870 2363,871.7 2365.3,883.3 2369.9,892.5 2369.9,906.4 2365.3,927.3 2358.3,950.4 2351.4,959.7 2346.7,979.4 2349.1,994.4 2356,1008.3 2365.3,1026.9 2376.9,1043.1 2388.4,1057 2395.4,1070.9 2397.7,1084.7 2389.6,1091.7 2374.5,1101 2365.3,1114.9 2358.3,1131.1 2356,1138 2342.1,1133.4 2323.6,1138 2316.6,1147.3 2309.7,1154.2 2300.4,1168.1 2297,1176 2256.4,1216 2247.2,1229.9 2237.9,1241.5 2240.2,1250.7 2235.6,1260 2222.9,1270.4 2221.7,1283.2 2207.8,1285.5 2210.1,1293.6 2193.9,1302.8 2183.5,1308.6 2175.4,1311 2168.4,1315.6 2173.1,1324.8 2182.3,1317.9 2175.4,1327.2 2168.4,1338.7 2165,1350.3 2156.9,1355 2159.2,1366.5 2154.5,1378.1 2149.9,1392 2147.6,1401.3 2146.4,1417.5 2149.9,1429.1 2156.9,1447.6 2163.8,1466.1 2173.1,1482.3 2184.7,1500.9 2196.2,1517.1 2205.5,1528.6 2217.1,1542.5 2226.3,1554.1 2228.7,1558.8 2221.7,1562 2214.8,1562 2226.3,1575.9 2237.9,1594.4 2249.5,1612.9 2263.4,1631.5 2272.7,1647.7 2278.4,1666.2 2280.8,1691.7 2281.9,1719.5 2275,1735.7 2275,1754.2 2275,1754.2 2268,1760 2258.8,1763.5 2247.2,1769.3 2233.3,1773.9 2228.7,1764.6 2241.4,1763.5 2233.3,1761.2 2226.3,1754.2 2214.8,1740.3 2210.1,1731.1 2191.6,1724.1 2182.3,1714.8 2177.7,1701 2170.8,1694 2175.4,1682.4 2166.1,1695.2 2155.7,1691.7 2156.9,1698.6 2163.8,1701 2162.6,1691.7 2160.3,1677.8 2162.6,1667.4 2153.4,1669.7 2152.2,1676.6 2143,1673.2 2133.7,1663.9 2124.4,1650 2116.3,1640.7 2124.4,1629.2 2131.4,1615.3 2124.4,1612.9 2116.3,1611.8 2122.1,1616.4 2119.8,1625.7 2112.9,1626.8 2105.9,1619.9 2105.9,1608.3 2108.2,1592.1 2110.5,1575.9 2108.2,1562 2108.2,1562 2107.1,1554.1 2099,1544.9 2082.8,1533.3 2064.2,1521.7 2050.3,1507.8 2039.9,1496.2 2019.1,1488.1 2001.7,1496.2 2002.9,1503.2 1990.1,1505.5 1976.2,1514.7 1962.3,1520.5 1950.7,1524 1949.6,1514.7 1941.5,1507.8 1929.9,1497.4 1933.4,1489.3 1927.6,1490.4 1925.3,1497.4 1902.1,1490.4 1885.9,1487 1904.4,1484.6 1902.1,1480 1885.9,1480 1874.3,1485.8 1858.1,1489.3 1857,1480 1852.3,1485.8 1847.7,1484.6 1846.5,1493.9 1832.6,1499.7 1831.5,1491.6 1824.5,1502 1816.4,1500.9 1808.3,1492.7 1807.2,1485.8 1800.7,1477.2 1796.7,1482.3 1795.6,1497.4 1765.5,1500.4 1753.9,1498.5 1740,1505.5 1753.2,1498.6 1738,1505.5 1731.1,1504.8 1724.2,1513.1 1715.9,1517.3 1698,1512.4 1689.7,1506.2 1682.8,1506.2 1678.7,1511 1673.2,1522.1 1685.6,1528.3 1692.5,1522.8 1700.7,1518.6 1711.8,1520 1705.6,1528.3 1711.8,1533.8 1719.4,1533.1 1718.7,1527.6 1722.8,1524.2 1731.1,1522.8 1738.7,1516.6 1739.4,1524.2 1727.7,1526.9 1731.8,1532.4 1732.5,1538.6 1720.1,1543.5 1720.8,1547.6 1714.5,1548.3 1712.5,1551.8 1715.9,1556.6 1725.6,1564.2 1743.5,1567.6 1749,1573.8 1754.6,1575.2 1755.3,1578 1750.4,1582.1 1747.7,1588.3 1742.1,1583.5 1735.2,1591.1 1733.9,1584.9 1729.7,1577.3 1718.7,1571.1 1711.1,1571.8 1709.7,1568.3 1703.5,1562.8 1688.3,1559.3 1696.6,1564.2 1695.9,1576.6 1693.8,1584.9 1686.9,1586.9 1684.2,1580.7 1680,1575.9 1671.8,1575.2 1666.3,1578 1662.8,1584.9 1659.4,1586.9 1642.8,1582.8 1626.9,1578 1636.6,1575.2 1630.4,1566.9 1629,1560 1624.9,1563.5 1615.2,1561.4 1611.1,1557.3 1606.2,1550.4 1597.3,1550.4 1593.1,1544.9 1584.8,1548.3 1578.6,1555.2 1580.7,1560.7 1573.8,1563.5 1560,1562.8 1563.7,1562 1545.2,1558.8 1533.6,1555.3 1517.4,1550.6 1494.2,1551.8 1480.3,1556.4 1464.1,1562 1471.1,1562 1454.9,1568.9 1436.3,1579.4 1429.4,1581.7 1415.5,1592.1 1413.2,1599.1 1401.6,1607.2 1387.7,1616.4 1371.5,1626.8 1355.3,1635 1366.9,1625.7 1346,1623.4 1337.9,1625.7 1332.1,1619.9 1336.7,1631.5 1343.7,1637.3 1332.1,1641.9 1324,1638.4 1321.7,1650 1314.7,1651.2 1302,1655.8 1306.6,1661.6 1299.7,1669.7 1285.8,1674.3 1295.1,1684.7 1290.4,1696.3 1284.6,1706.7 1267.3,1698.6 1270.7,1710.2 1283.5,1713.7 1277.7,1728.7 1281.2,1747.3 1284.6,1763.5 1290.4,1775.1 1296.2,1787.8 1299.7,1791.3 1299.7,1805.2 1292.7,1821.4 1283.5,1839.9 1274.2,1863.1 1268.4,1886.2 1265,1908 1263,1925.7 1261.8,1951M1963.5,1525.2 1971.6,1526.3 1985.5,1517.1M1764.2,1508.3 1773.9,1511M1785.6,1507.6 1800.1,1504.8M1802.9,1505.5 1822.2,1502.8M1756.6,1520 1762.2,1529.7 1760.1,1539.3 1754.6,1547.6M2665.6,266 2667.9,247.5 2671.4,235.9 2677.2,247.5 2678.3,256.7 2694.5,259.1 2708.4,256.7 2731.6,247.5 2757.1,238.2 2764,239.4 2757.1,252.1 2750.1,263.7 2757.1,270.6 2743.2,276.4 2733.9,270.6 2731.6,264.8 2720,269.5 2710.8,275.3 2699.2,270.6 2694.5,266 2685.3,270.6 2678.3,268.3 2673.7,264.8ZM2384.2,752.1 2388.8,730.1 2409.7,720.9 2428.2,713.9 2442.1,707 2451.4,696.5 2446.7,709.3 2469.9,697.2 2456,709.3 2442.1,720.9 2428.2,730.1 2416.6,739.4 2405.1,744 2391.2,749.8ZM2510.4,665.3 2513.9,658.3 2522,657.2 2520.9,661.8ZM2537.1,660.6 2545.2,651.4 2549.8,659.5 2544,662.5ZM129.6,1088.9 138.8,1094.6 150.4,1098.1 147,1103.4 140,1100.4ZM156.2,1095.8 174.7,1102.7 166.6,1104.4 156.9,1099.3ZM213,1151.4 224.5,1159.5 224.1,1166.4 216.4,1163ZM203.7,1178 213,1194.2 207.2,1193.1ZM408.6,1454.5 414.4,1456.9 419.1,1468.4 426,1475.4 424.9,1492.7 414.4,1477.7 407.5,1463.8ZM461.9,1491.6 473.5,1490.4 474.7,1505.5 467.7,1520.5 456.1,1511.3ZM298.6,1506.6 304.4,1507.8 304.4,1519.4 298.6,1528.6 290.5,1521.7 297.5,1514.7ZM144.6,1411.7 149.3,1410.5 152.3,1419.8 150.4,1429.1 145.8,1430.2ZM343.8,1555.3 349.6,1549.5 354.2,1550.6 350.8,1562ZM1672.5,1521.7 1681.8,1506.6 1691.1,1506.6 1709.6,1514.7 1718.9,1517.1 1709.6,1520.5 1695.7,1525.2 1684.1,1527.5ZM2333.3,1652.4 2349.5,1661.7 2368,1652.4 2381.9,1645.5 2395.8,1640.9 2393.5,1635.1 2372.6,1640.9 2358.7,1643.2 2354.1,1639.7 2354.1,1651.3 2347.2,1654.7ZM2390,1625.8 2400.4,1621.2 2413.2,1620 2423.6,1628.1 2432.8,1631.6 2445.6,1637.4 2450.2,1650.1 2445.6,1657.1 2446.7,1673.3 2444.4,1681.4 2431.7,1674.4 2437.5,1666.3 2436.3,1645.5 2428.2,1636.2 2415.5,1625.8 2400.4,1625.8ZM2476.9,1703.4 2479.2,1693 2488.4,1698.7 2502.3,1702.2 2519.7,1711.5 2522,1724.2 2524.3,1742.8 2511.6,1734.6 2518.5,1733.5 2516.2,1719.6 2500,1706.9 2488.4,1704.5ZM2437.5,1738.1 2442.1,1733.5 2452.5,1731.6 2456,1734.6 2450.2,1738.6 2441,1740.4ZM489.7,1714.8 494.3,1703.3 500.1,1701 499,1707.9 492,1714.8ZM509.4,1768.1 516.3,1772.7 517.5,1782 511.7,1779.7ZM547.6,1823.7 552.2,1836.4 548.8,1835.3ZM2407.5,1910 2425.7,1907 2440.9,1911.6 2456.2,1922.2 2477.5,1926.8 2476,1937.4 2465.3,1934.4 2453.1,1923.7 2434.9,1914.6 2419.6,1911.6ZM2398.3,1736.5 2413.5,1739.6 2418.1,1750.2 2434.9,1760.9 2436.4,1776.1 2421.2,1789.8 2410.5,1780.7 2399.8,1782.2 2393.8,1774.6 2401.4,1770 2399.8,1760.9 2404.4,1748.7ZM2424.2,1791.3 2440.9,1786.8 2453.1,1797.4 2459.2,1811.1 2456.2,1820.2 2444,1822.4 2439.4,1809.6 2431.8,1800.5ZM2547.5,1735 2556.6,1735 2582.5,1759.4 2570.3,1765.4 2573.4,1759.4 2550.5,1739.6ZM2626.6,1751.8 2631.2,1750.2 2632.7,1756.3 2629.1,1762.4 2626,1757.8ZM2547.5,1803.5 2556.6,1803.5 2571.8,1809.6 2568.8,1812.6 2547.5,1806.5ZM2587.1,1791.3 2593.2,1792.8 2611.4,1818.7 2626.6,1827.9 2629.7,1835.5 2617.5,1824.8 2602.3,1823.3 2608.4,1818.7ZM2660.1,1829.4 2672.3,1832.4 2686,1830.9 2689,1827.9 2693.6,1840 2684.5,1855.3 2673.8,1868.9 2676.9,1855.3 2687.5,1840 2681.4,1835.5 2666.2,1836.4ZM2734.7,1835.5 2745.4,1833.3 2760.6,1835.5 2759.1,1838.5 2745.4,1837 2736.2,1839.4ZM2794.1,1859.8 2803.2,1858.3 2798.6,1864.4ZM2757.5,1890.3 2765.1,1890.3 2760.6,1894.8ZM2728.6,1928.3 2739.3,1919.2 2754.5,1917.7 2762.1,1905.5 2765.1,1910 2760.6,1926.8 2745.4,1934.4 2730.1,1939Z"/>
<g fill="#000"><circle cx="298.1" cy="200.9" r="2.1"/><circle cx="300" cy="209.4" r="2.8"/><circle cx="304.7" cy="211.2" r="2.6"/><circle cx="307.9" cy="218.7" r="2.8"/><circle cx="311.2" cy="206.1" r="3.6"/><circle cx="314.5" cy="209.4" r="2.3"/><circle cx="311.7" cy="184.1" r="2.6"/><circle cx="316.8" cy="184.1" r="2.3"/><circle cx="309.3" cy="198.1" r="1.3"/><circle cx="2815" cy="247.5" r="5"/><circle cx="2613.5" cy="414.2" r="4"/><circle cx="2557.9" cy="457.1" r="4"/><circle cx="2547.5" cy="471" r="3.5"/><circle cx="162" cy="1150.9" r="4.5"/><circle cx="2254.1" cy="1790.1" r="3.2"/><circle cx="2247.2" cy="1794.7" r="3.2"/><circle cx="2240.2" cy="1799.4" r="3.2"/><circle cx="2222.9" cy="1804" r="3.2"/><circle cx="2220.5" cy="1807.5" r="3.2"/><circle cx="2211.3" cy="1811" r="3.2"/><circle cx="2200.9" cy="1816.7" r="3.2"/></g>
</g>
<rect x="30.5" y="178.4" width="2790" height="1762.9" fill="none" stroke="#000" stroke-width="3.3"/>
<text x="1425.5" y="80.3" font-size="66.67" text-anchor="middle">Hit Rate (Below Normal): CWRF</text>
<text x="1425.5" y="153.8" font-size="66.67" text-anchor="middle">Variable: T2MIN, Month: AUG, Start: 0307</text>
<rect x="2994.3" y="1597.6" width="73.8" height="135" fill="#053061"/>
<rect x="2994.3" y="1463.2" width="73.8" height="135" fill="#246aae"/>
<rect x="2994.3" y="1328.8" width="73.8" height="135" fill="#529dc8"/>
<rect x="2994.3" y="1194.4" width="73.8" height="135" fill="#a7d0e4"/>
<rect x="2994.3" y="1060" width="73.8" height="135" fill="#e1edf3"/>
<rect x="2994.3" y="925.6" width="73.8" height="135" fill="#fae8de"/>
<rect x="2994.3" y="791.2" width="73.8" height="135" fill="#f7b799"/>
<rect x="2994.3" y="656.8" width="73.8" height="135" fill="#dd7059"/>
<rect x="2994.3" y="522.4" width="73.8" height="135" fill="#b72230"/>
<rect x="2994.3" y="388" width="73.8" height="135" fill="#67001f"/>
<path d="M2994.3,388.8L3031.3,321.1L3068.2,388.8Z" fill="#67001f"/>
<path d="M2994.3,1731.8L3031.3,1799.5L3068.2,1731.8Z" fill="#053061"/>
<path d="M2994.3,388.3L3031.3,321.1L3068.2,388.3L3068.2,1732.3L3031.3,1799.5L2994.3,1732.3Z" fill="none" stroke="#000" stroke-width="3.3" stroke-linejoin="miter"/>
<path d="M3068.2,1732.3h14.6" stroke="#000" stroke-width="3.3"/>
<text x="3097.4" y="1747.5" font-size="41.67">0.0</text>
<path d="M3068.2,1597.9h14.6" stroke="#000" stroke-width="3.3"/>
<text x="3097.4" y="1613.1" font-size="41.67">0.1</text>
<path d="M3068.2,1463.5h14.6" stroke="#000" stroke-width="3.3"/>
<text x="3097.4" y="1478.7" font-size="41.67">0.2</text>
<path d="M3068.2,1329.1h14.6" stroke="#000" stroke-width="3.3"/>
<text x="3097.4" y="1344.3" font-size="41.67">0.3</text>
<path d="M3068.2,1194.7h14.6" stroke="#000" stroke-width="3.3"/>
<text x="3097.4" y="1209.9" font-size="41.67">0.4</text>
<path d="M3068.2,1060.3h14.6" stroke="#000" stroke-width="3.3"/>
<text x="3097.4" y="1075.5" font-size="41.67">0.5</text>
<path d="M3068.2,925.9h14.6" stroke="#000" stroke-width="3.3"/>
<text x="3097.4" y="941.1" font-size="41.67">0.6</text>
<path d="M3068.2,791.5h14.6" stroke="#000" stroke-width="3.3"/>
<text x="3097.4" y="806.7" font-size="41.67">0.7</text>
<path d="M3068.2,657.1h14.6" stroke="#000" stroke-width="3.3"/>
<text x="3097.4" y="672.3" font-size="41.67">0.8</text>
<path d="M3068.2,522.7h14.6" stroke="#000" stroke-width="3.3"/>
<text x="3097.4" y="537.9" font-size="41.67">0.9</text>
<path d="M3068.2,388.3h14.6" stroke="#000" stroke-width="3.3"/>
<text x="3097.4" y="403.5" font-size="41.67">1.0</text>
<text transform="translate(3211,1062.3) rotate(-90)" font-size="41.67" text-anchor="middle">Hit Rate</text>
</svg></body></html>
